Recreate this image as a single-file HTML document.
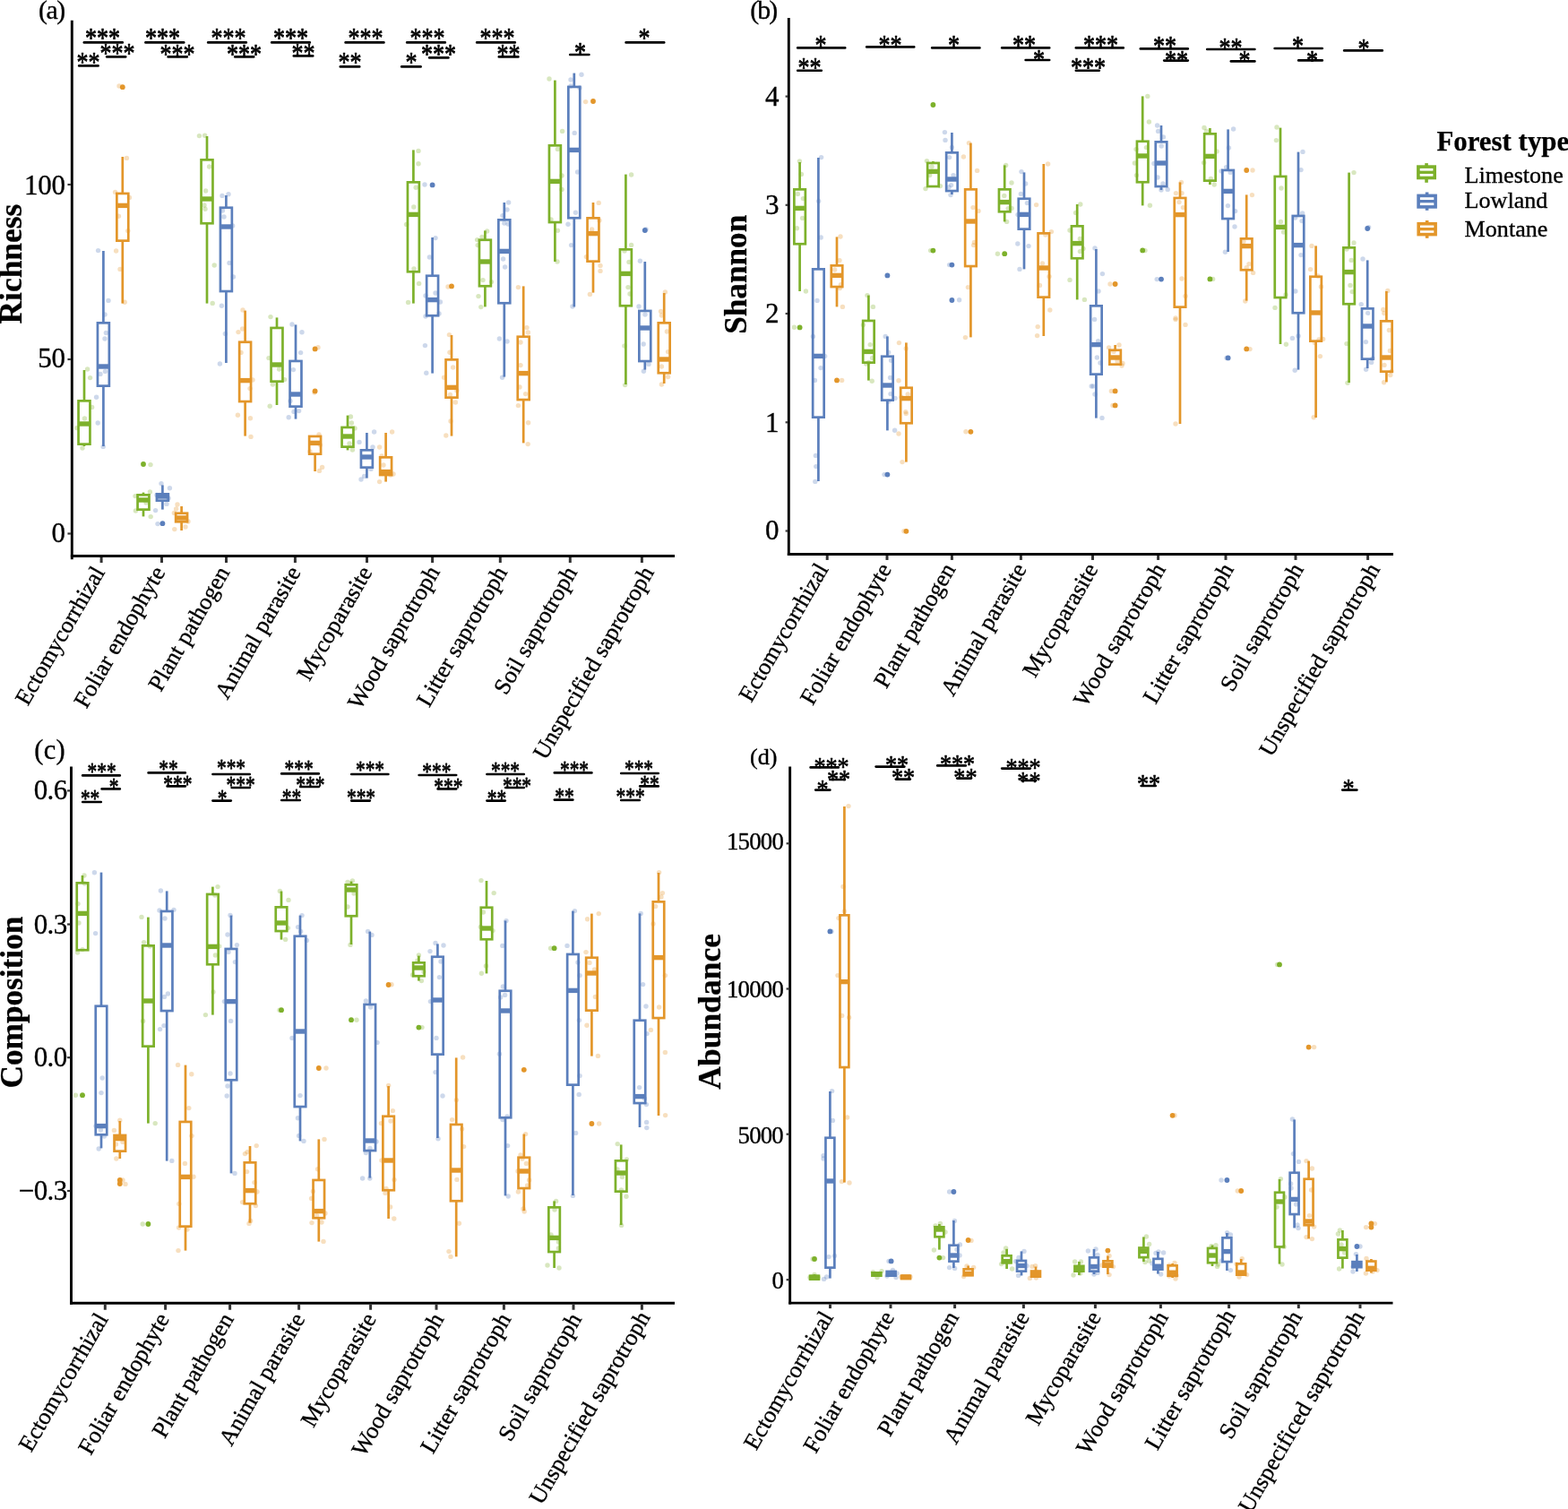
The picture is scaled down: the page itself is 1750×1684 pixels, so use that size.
<!DOCTYPE html>
<html lang="en">
<head>
<meta charset="utf-8">
<title>Fungal guild diversity by forest type</title>
<style>
html,body{margin:0;padding:0;background:#ffffff;}
body{width:1750px;height:1684px;overflow:hidden;font-family:"Liberation Serif",serif;}
svg{display:block;position:absolute;left:0;top:0;}
svg text{font-family:"Liberation Serif",serif;}
</style>
</head>
<body>
<svg xmlns="http://www.w3.org/2000/svg" width="1750" height="1684" viewBox="0 0 1750 1684" font-family="Liberation Serif, 'Liberation Serif', serif">
<rect x="0" y="0" width="1750" height="1684" fill="#ffffff"/>
<g fill="none" stroke-width="2.7">
<line x1="94" y1="413" x2="94" y2="447.35" stroke="#7DB12B"/>
<line x1="94" y1="495.65" x2="94" y2="498" stroke="#7DB12B"/>
<rect x="87.55" y="447.35" width="12.9" height="48.3" stroke="#7DB12B" fill="#ffffff"/>
<line x1="87.55" y1="473" x2="100.45" y2="473" stroke="#7DB12B" stroke-width="5.4"/>
<line x1="115.4" y1="280" x2="115.4" y2="360.35" stroke="#5B7FBC"/>
<line x1="115.4" y1="430.65" x2="115.4" y2="498" stroke="#5B7FBC"/>
<rect x="108.95" y="360.35" width="12.9" height="70.3" stroke="#5B7FBC" fill="#ffffff"/>
<line x1="108.95" y1="409" x2="121.85" y2="409" stroke="#5B7FBC" stroke-width="5.4"/>
<line x1="136.8" y1="175" x2="136.8" y2="215.95" stroke="#E3962A"/>
<line x1="136.8" y1="268.65" x2="136.8" y2="338.6" stroke="#E3962A"/>
<rect x="130.35" y="215.95" width="12.9" height="52.7" stroke="#E3962A" fill="#ffffff"/>
<line x1="130.35" y1="229.4" x2="143.25" y2="229.4" stroke="#E3962A" stroke-width="5.4"/>
<circle cx="136.8" cy="97.2" r="2.9" fill="#E3962A" stroke="none"/>
<line x1="160" y1="549.6" x2="160" y2="552.35" stroke="#7DB12B"/>
<line x1="160" y1="568.65" x2="160" y2="576.4" stroke="#7DB12B"/>
<rect x="153.55" y="552.35" width="12.9" height="16.3" stroke="#7DB12B" fill="#ffffff"/>
<line x1="153.55" y1="558" x2="166.45" y2="558" stroke="#7DB12B" stroke-width="5.4"/>
<circle cx="160" cy="518" r="2.9" fill="#7DB12B" stroke="none"/>
<line x1="181.4" y1="541.4" x2="181.4" y2="551.35" stroke="#5B7FBC"/>
<line x1="181.4" y1="558.65" x2="181.4" y2="568.6" stroke="#5B7FBC"/>
<rect x="174.95" y="551.35" width="12.9" height="7.3" stroke="#5B7FBC" fill="#ffffff"/>
<line x1="174.95" y1="554" x2="187.85" y2="554" stroke="#5B7FBC" stroke-width="5.4"/>
<circle cx="181.4" cy="584.2" r="2.9" fill="#5B7FBC" stroke="none"/>
<line x1="202.6" y1="565" x2="202.6" y2="572.75" stroke="#E3962A"/>
<line x1="202.6" y1="582.25" x2="202.6" y2="592" stroke="#E3962A"/>
<rect x="196.15" y="572.75" width="12.9" height="9.5" stroke="#E3962A" fill="#ffffff"/>
<line x1="196.15" y1="578" x2="209.05" y2="578" stroke="#E3962A" stroke-width="5.4"/>
<line x1="231" y1="152" x2="231" y2="178.35" stroke="#7DB12B"/>
<line x1="231" y1="249.25" x2="231" y2="338.6" stroke="#7DB12B"/>
<rect x="224.55" y="178.35" width="12.9" height="70.9" stroke="#7DB12B" fill="#ffffff"/>
<line x1="224.55" y1="222" x2="237.45" y2="222" stroke="#7DB12B" stroke-width="5.4"/>
<line x1="252.4" y1="218" x2="252.4" y2="231.75" stroke="#5B7FBC"/>
<line x1="252.4" y1="325.05" x2="252.4" y2="405" stroke="#5B7FBC"/>
<rect x="245.95" y="231.75" width="12.9" height="93.3" stroke="#5B7FBC" fill="#ffffff"/>
<line x1="245.95" y1="253" x2="258.85" y2="253" stroke="#5B7FBC" stroke-width="5.4"/>
<line x1="273.6" y1="346.6" x2="273.6" y2="381.75" stroke="#E3962A"/>
<line x1="273.6" y1="448.05" x2="273.6" y2="486.6" stroke="#E3962A"/>
<rect x="267.15" y="381.75" width="12.9" height="66.3" stroke="#E3962A" fill="#ffffff"/>
<line x1="267.15" y1="424.6" x2="280.05" y2="424.6" stroke="#E3962A" stroke-width="5.4"/>
<line x1="309" y1="354.4" x2="309" y2="365.95" stroke="#7DB12B"/>
<line x1="309" y1="425.65" x2="309" y2="452" stroke="#7DB12B"/>
<rect x="302.55" y="365.95" width="12.9" height="59.7" stroke="#7DB12B" fill="#ffffff"/>
<line x1="302.55" y1="407" x2="315.45" y2="407" stroke="#7DB12B" stroke-width="5.4"/>
<line x1="330" y1="362.4" x2="330" y2="402.95" stroke="#5B7FBC"/>
<line x1="330" y1="453.65" x2="330" y2="467.6" stroke="#5B7FBC"/>
<rect x="323.55" y="402.95" width="12.9" height="50.7" stroke="#5B7FBC" fill="#ffffff"/>
<line x1="323.55" y1="440" x2="336.45" y2="440" stroke="#5B7FBC" stroke-width="5.4"/>
<line x1="351.6" y1="506.65" x2="351.6" y2="526" stroke="#E3962A"/>
<rect x="345.15" y="486.95" width="12.9" height="19.7" stroke="#E3962A" fill="#ffffff"/>
<line x1="345.15" y1="494.4" x2="358.05" y2="494.4" stroke="#E3962A" stroke-width="5.4"/>
<circle cx="351.6" cy="389.4" r="2.9" fill="#E3962A" stroke="none"/>
<circle cx="351.6" cy="436.4" r="2.9" fill="#E3962A" stroke="none"/>
<line x1="388" y1="463.6" x2="388" y2="476.95" stroke="#7DB12B"/>
<line x1="388" y1="498.65" x2="388" y2="502.4" stroke="#7DB12B"/>
<rect x="381.55" y="476.95" width="12.9" height="21.7" stroke="#7DB12B" fill="#ffffff"/>
<line x1="381.55" y1="487" x2="394.45" y2="487" stroke="#7DB12B" stroke-width="5.4"/>
<line x1="409.4" y1="483" x2="409.4" y2="502.35" stroke="#5B7FBC"/>
<line x1="409.4" y1="521.65" x2="409.4" y2="533.6" stroke="#5B7FBC"/>
<rect x="402.95" y="502.35" width="12.9" height="19.3" stroke="#5B7FBC" fill="#ffffff"/>
<line x1="402.95" y1="510" x2="415.85" y2="510" stroke="#5B7FBC" stroke-width="5.4"/>
<line x1="430.6" y1="483" x2="430.6" y2="510.35" stroke="#E3962A"/>
<line x1="430.6" y1="530.05" x2="430.6" y2="537.6" stroke="#E3962A"/>
<rect x="424.15" y="510.35" width="12.9" height="19.7" stroke="#E3962A" fill="#ffffff"/>
<line x1="424.15" y1="526.6" x2="437.05" y2="526.6" stroke="#E3962A" stroke-width="5.4"/>
<line x1="461.4" y1="167.4" x2="461.4" y2="203.35" stroke="#7DB12B"/>
<line x1="461.4" y1="303.25" x2="461.4" y2="338.6" stroke="#7DB12B"/>
<rect x="454.95" y="203.35" width="12.9" height="99.9" stroke="#7DB12B" fill="#ffffff"/>
<line x1="454.95" y1="239.4" x2="467.85" y2="239.4" stroke="#7DB12B" stroke-width="5.4"/>
<line x1="482.6" y1="265" x2="482.6" y2="307.75" stroke="#5B7FBC"/>
<line x1="482.6" y1="352.25" x2="482.6" y2="416.6" stroke="#5B7FBC"/>
<rect x="476.15" y="307.75" width="12.9" height="44.5" stroke="#5B7FBC" fill="#ffffff"/>
<line x1="476.15" y1="334.6" x2="489.05" y2="334.6" stroke="#5B7FBC" stroke-width="5.4"/>
<circle cx="482.6" cy="206.4" r="2.9" fill="#5B7FBC" stroke="none"/>
<line x1="504" y1="374" x2="504" y2="401.35" stroke="#E3962A"/>
<line x1="504" y1="443.65" x2="504" y2="486.6" stroke="#E3962A"/>
<rect x="497.55" y="401.35" width="12.9" height="42.3" stroke="#E3962A" fill="#ffffff"/>
<line x1="497.55" y1="432.4" x2="510.45" y2="432.4" stroke="#E3962A" stroke-width="5.4"/>
<circle cx="504" cy="319.4" r="2.9" fill="#E3962A" stroke="none"/>
<line x1="541.4" y1="257.4" x2="541.4" y2="267.75" stroke="#7DB12B"/>
<line x1="541.4" y1="319.25" x2="541.4" y2="342.4" stroke="#7DB12B"/>
<rect x="534.95" y="267.75" width="12.9" height="51.5" stroke="#7DB12B" fill="#ffffff"/>
<line x1="534.95" y1="292" x2="547.85" y2="292" stroke="#7DB12B" stroke-width="5.4"/>
<line x1="562.8" y1="226" x2="562.8" y2="245.35" stroke="#5B7FBC"/>
<line x1="562.8" y1="338.25" x2="562.8" y2="420.6" stroke="#5B7FBC"/>
<rect x="556.35" y="245.35" width="12.9" height="92.9" stroke="#5B7FBC" fill="#ffffff"/>
<line x1="556.35" y1="280.4" x2="569.25" y2="280.4" stroke="#5B7FBC" stroke-width="5.4"/>
<line x1="584.2" y1="319.4" x2="584.2" y2="375.75" stroke="#E3962A"/>
<line x1="584.2" y1="446.05" x2="584.2" y2="494.4" stroke="#E3962A"/>
<rect x="577.75" y="375.75" width="12.9" height="70.3" stroke="#E3962A" fill="#ffffff"/>
<line x1="577.75" y1="416.6" x2="590.65" y2="416.6" stroke="#E3962A" stroke-width="5.4"/>
<line x1="619.4" y1="89.6" x2="619.4" y2="162.35" stroke="#7DB12B"/>
<line x1="619.4" y1="248.05" x2="619.4" y2="292" stroke="#7DB12B"/>
<rect x="612.95" y="162.35" width="12.9" height="85.7" stroke="#7DB12B" fill="#ffffff"/>
<line x1="612.95" y1="202.4" x2="625.85" y2="202.4" stroke="#7DB12B" stroke-width="5.4"/>
<line x1="640.8" y1="81.6" x2="640.8" y2="96.95" stroke="#5B7FBC"/>
<line x1="640.8" y1="243.25" x2="640.8" y2="342.4" stroke="#5B7FBC"/>
<rect x="634.35" y="96.95" width="12.9" height="146.3" stroke="#5B7FBC" fill="#ffffff"/>
<line x1="634.35" y1="167.4" x2="647.25" y2="167.4" stroke="#5B7FBC" stroke-width="5.4"/>
<line x1="662" y1="226" x2="662" y2="243.35" stroke="#E3962A"/>
<line x1="662" y1="291.65" x2="662" y2="326.6" stroke="#E3962A"/>
<rect x="655.55" y="243.35" width="12.9" height="48.3" stroke="#E3962A" fill="#ffffff"/>
<line x1="655.55" y1="260.6" x2="668.45" y2="260.6" stroke="#E3962A" stroke-width="5.4"/>
<circle cx="662" cy="113" r="2.9" fill="#E3962A" stroke="none"/>
<line x1="698.4" y1="194.6" x2="698.4" y2="278.35" stroke="#7DB12B"/>
<line x1="698.4" y1="341.25" x2="698.4" y2="429" stroke="#7DB12B"/>
<rect x="691.95" y="278.35" width="12.9" height="62.9" stroke="#7DB12B" fill="#ffffff"/>
<line x1="691.95" y1="305.4" x2="704.85" y2="305.4" stroke="#7DB12B" stroke-width="5.4"/>
<line x1="719.8" y1="292" x2="719.8" y2="346.95" stroke="#5B7FBC"/>
<line x1="719.8" y1="403.05" x2="719.8" y2="412.6" stroke="#5B7FBC"/>
<rect x="713.35" y="346.95" width="12.9" height="56.1" stroke="#5B7FBC" fill="#ffffff"/>
<line x1="713.35" y1="366" x2="726.25" y2="366" stroke="#5B7FBC" stroke-width="5.4"/>
<circle cx="719.8" cy="257" r="2.9" fill="#5B7FBC" stroke="none"/>
<line x1="741.2" y1="327" x2="741.2" y2="360.35" stroke="#E3962A"/>
<line x1="741.2" y1="416.25" x2="741.2" y2="428" stroke="#E3962A"/>
<rect x="734.75" y="360.35" width="12.9" height="55.9" stroke="#E3962A" fill="#ffffff"/>
<line x1="734.75" y1="401" x2="747.65" y2="401" stroke="#E3962A" stroke-width="5.4"/>
</g>
<g fill="none" stroke-width="2.7">
<line x1="892.6" y1="181" x2="892.6" y2="211.35" stroke="#7DB12B"/>
<line x1="892.6" y1="272.25" x2="892.6" y2="325" stroke="#7DB12B"/>
<rect x="886.35" y="211.35" width="12.5" height="60.9" stroke="#7DB12B" fill="#ffffff"/>
<line x1="886.35" y1="232.4" x2="898.85" y2="232.4" stroke="#7DB12B" stroke-width="5.4"/>
<circle cx="892.6" cy="365.4" r="2.9" fill="#7DB12B" stroke="none"/>
<line x1="913.4" y1="176" x2="913.4" y2="300.35" stroke="#5B7FBC"/>
<line x1="913.4" y1="465.65" x2="913.4" y2="537" stroke="#5B7FBC"/>
<rect x="907.15" y="300.35" width="12.5" height="165.3" stroke="#5B7FBC" fill="#ffffff"/>
<line x1="907.15" y1="397.4" x2="919.65" y2="397.4" stroke="#5B7FBC" stroke-width="5.4"/>
<line x1="934" y1="264.4" x2="934" y2="296.35" stroke="#E3962A"/>
<line x1="934" y1="320.05" x2="934" y2="342.4" stroke="#E3962A"/>
<rect x="927.75" y="296.35" width="12.5" height="23.7" stroke="#E3962A" fill="#ffffff"/>
<line x1="927.75" y1="307.4" x2="940.25" y2="307.4" stroke="#E3962A" stroke-width="5.4"/>
<circle cx="934" cy="424.4" r="2.9" fill="#E3962A" stroke="none"/>
<line x1="969.4" y1="329.6" x2="969.4" y2="357.95" stroke="#7DB12B"/>
<line x1="969.4" y1="404.65" x2="969.4" y2="424.6" stroke="#7DB12B"/>
<rect x="963.15" y="357.95" width="12.5" height="46.7" stroke="#7DB12B" fill="#ffffff"/>
<line x1="963.15" y1="392.4" x2="975.65" y2="392.4" stroke="#7DB12B" stroke-width="5.4"/>
<line x1="990.4" y1="375.4" x2="990.4" y2="397.75" stroke="#5B7FBC"/>
<line x1="990.4" y1="446.65" x2="990.4" y2="480.4" stroke="#5B7FBC"/>
<rect x="984.15" y="397.75" width="12.5" height="48.9" stroke="#5B7FBC" fill="#ffffff"/>
<line x1="984.15" y1="430" x2="996.65" y2="430" stroke="#5B7FBC" stroke-width="5.4"/>
<circle cx="990.4" cy="307.4" r="2.9" fill="#5B7FBC" stroke="none"/>
<circle cx="990.4" cy="529.6" r="2.9" fill="#5B7FBC" stroke="none"/>
<line x1="1011.4" y1="382.4" x2="1011.4" y2="432.75" stroke="#E3962A"/>
<line x1="1011.4" y1="472.25" x2="1011.4" y2="515.6" stroke="#E3962A"/>
<rect x="1005.15" y="432.75" width="12.5" height="39.5" stroke="#E3962A" fill="#ffffff"/>
<line x1="1005.15" y1="444.6" x2="1017.65" y2="444.6" stroke="#E3962A" stroke-width="5.4"/>
<circle cx="1011.4" cy="592.8" r="2.9" fill="#E3962A" stroke="none"/>
<line x1="1041.4" y1="180" x2="1041.4" y2="181.95" stroke="#7DB12B"/>
<rect x="1035.15" y="181.95" width="12.5" height="26.1" stroke="#7DB12B" fill="#ffffff"/>
<line x1="1035.15" y1="191.4" x2="1047.65" y2="191.4" stroke="#7DB12B" stroke-width="5.4"/>
<circle cx="1041.4" cy="117" r="2.9" fill="#7DB12B" stroke="none"/>
<circle cx="1041.4" cy="279.6" r="2.9" fill="#7DB12B" stroke="none"/>
<line x1="1062.4" y1="148" x2="1062.4" y2="170.35" stroke="#5B7FBC"/>
<line x1="1062.4" y1="213.05" x2="1062.4" y2="217" stroke="#5B7FBC"/>
<rect x="1056.15" y="170.35" width="12.5" height="42.7" stroke="#5B7FBC" fill="#ffffff"/>
<line x1="1056.15" y1="200" x2="1068.65" y2="200" stroke="#5B7FBC" stroke-width="5.4"/>
<circle cx="1062.4" cy="295.6" r="2.9" fill="#5B7FBC" stroke="none"/>
<circle cx="1062.4" cy="335" r="2.9" fill="#5B7FBC" stroke="none"/>
<line x1="1083.4" y1="159.6" x2="1083.4" y2="211.35" stroke="#E3962A"/>
<line x1="1083.4" y1="297.05" x2="1083.4" y2="376.4" stroke="#E3962A"/>
<rect x="1077.15" y="211.35" width="12.5" height="85.7" stroke="#E3962A" fill="#ffffff"/>
<line x1="1077.15" y1="247" x2="1089.65" y2="247" stroke="#E3962A" stroke-width="5.4"/>
<circle cx="1083.4" cy="481.8" r="2.9" fill="#E3962A" stroke="none"/>
<line x1="1121.2" y1="184.4" x2="1121.2" y2="211.35" stroke="#7DB12B"/>
<line x1="1121.2" y1="236.25" x2="1121.2" y2="247.4" stroke="#7DB12B"/>
<rect x="1114.95" y="211.35" width="12.5" height="24.9" stroke="#7DB12B" fill="#ffffff"/>
<line x1="1114.95" y1="225.6" x2="1127.45" y2="225.6" stroke="#7DB12B" stroke-width="5.4"/>
<circle cx="1121.2" cy="283.2" r="2.9" fill="#7DB12B" stroke="none"/>
<line x1="1143" y1="192.4" x2="1143" y2="221.75" stroke="#5B7FBC"/>
<line x1="1143" y1="255.65" x2="1143" y2="300.4" stroke="#5B7FBC"/>
<rect x="1136.75" y="221.75" width="12.5" height="33.9" stroke="#5B7FBC" fill="#ffffff"/>
<line x1="1136.75" y1="239.4" x2="1149.25" y2="239.4" stroke="#5B7FBC" stroke-width="5.4"/>
<line x1="1164.8" y1="183" x2="1164.8" y2="260.35" stroke="#E3962A"/>
<line x1="1164.8" y1="331.65" x2="1164.8" y2="375" stroke="#E3962A"/>
<rect x="1158.55" y="260.35" width="12.5" height="71.3" stroke="#E3962A" fill="#ffffff"/>
<line x1="1158.55" y1="299" x2="1171.05" y2="299" stroke="#E3962A" stroke-width="5.4"/>
<line x1="1202.2" y1="228" x2="1202.2" y2="252.35" stroke="#7DB12B"/>
<line x1="1202.2" y1="288.25" x2="1202.2" y2="334.4" stroke="#7DB12B"/>
<rect x="1195.95" y="252.35" width="12.5" height="35.9" stroke="#7DB12B" fill="#ffffff"/>
<line x1="1195.95" y1="271.6" x2="1208.45" y2="271.6" stroke="#7DB12B" stroke-width="5.4"/>
<line x1="1223.4" y1="278" x2="1223.4" y2="341.35" stroke="#5B7FBC"/>
<line x1="1223.4" y1="417.65" x2="1223.4" y2="466.6" stroke="#5B7FBC"/>
<rect x="1217.15" y="341.35" width="12.5" height="76.3" stroke="#5B7FBC" fill="#ffffff"/>
<line x1="1217.15" y1="384.6" x2="1229.65" y2="384.6" stroke="#5B7FBC" stroke-width="5.4"/>
<line x1="1244.6" y1="385" x2="1244.6" y2="390.75" stroke="#E3962A"/>
<rect x="1238.35" y="390.75" width="12.5" height="15.9" stroke="#E3962A" fill="#ffffff"/>
<line x1="1238.35" y1="399" x2="1250.85" y2="399" stroke="#E3962A" stroke-width="5.4"/>
<circle cx="1244.6" cy="317" r="2.9" fill="#E3962A" stroke="none"/>
<circle cx="1244.6" cy="436.4" r="2.9" fill="#E3962A" stroke="none"/>
<circle cx="1244.6" cy="452.4" r="2.9" fill="#E3962A" stroke="none"/>
<line x1="1275.2" y1="107.4" x2="1275.2" y2="157.75" stroke="#7DB12B"/>
<line x1="1275.2" y1="203.25" x2="1275.2" y2="229.4" stroke="#7DB12B"/>
<rect x="1268.95" y="157.75" width="12.5" height="45.5" stroke="#7DB12B" fill="#ffffff"/>
<line x1="1268.95" y1="174" x2="1281.45" y2="174" stroke="#7DB12B" stroke-width="5.4"/>
<circle cx="1275.2" cy="279.4" r="2.9" fill="#7DB12B" stroke="none"/>
<line x1="1296" y1="140" x2="1296" y2="158.35" stroke="#5B7FBC"/>
<line x1="1296" y1="208.05" x2="1296" y2="212" stroke="#5B7FBC"/>
<rect x="1289.75" y="158.35" width="12.5" height="49.7" stroke="#5B7FBC" fill="#ffffff"/>
<line x1="1289.75" y1="182" x2="1302.25" y2="182" stroke="#5B7FBC" stroke-width="5.4"/>
<circle cx="1296" cy="311.6" r="2.9" fill="#5B7FBC" stroke="none"/>
<line x1="1317" y1="203.4" x2="1317" y2="220.95" stroke="#E3962A"/>
<line x1="1317" y1="342.65" x2="1317" y2="473" stroke="#E3962A"/>
<rect x="1310.75" y="220.95" width="12.5" height="121.7" stroke="#E3962A" fill="#ffffff"/>
<line x1="1310.75" y1="239.6" x2="1323.25" y2="239.6" stroke="#E3962A" stroke-width="5.4"/>
<line x1="1350.4" y1="143" x2="1350.4" y2="149.35" stroke="#7DB12B"/>
<line x1="1350.4" y1="201.65" x2="1350.4" y2="206" stroke="#7DB12B"/>
<rect x="1344.15" y="149.35" width="12.5" height="52.3" stroke="#7DB12B" fill="#ffffff"/>
<line x1="1344.15" y1="174.4" x2="1356.65" y2="174.4" stroke="#7DB12B" stroke-width="5.4"/>
<circle cx="1350.4" cy="311.4" r="2.9" fill="#7DB12B" stroke="none"/>
<line x1="1370.6" y1="144.4" x2="1370.6" y2="189.95" stroke="#5B7FBC"/>
<line x1="1370.6" y1="244.05" x2="1370.6" y2="281" stroke="#5B7FBC"/>
<rect x="1364.35" y="189.95" width="12.5" height="54.1" stroke="#5B7FBC" fill="#ffffff"/>
<line x1="1364.35" y1="213.4" x2="1376.85" y2="213.4" stroke="#5B7FBC" stroke-width="5.4"/>
<circle cx="1370.6" cy="399.4" r="2.9" fill="#5B7FBC" stroke="none"/>
<line x1="1391.2" y1="217.4" x2="1391.2" y2="266.35" stroke="#E3962A"/>
<line x1="1391.2" y1="301.25" x2="1391.2" y2="335.6" stroke="#E3962A"/>
<rect x="1384.95" y="266.35" width="12.5" height="34.9" stroke="#E3962A" fill="#ffffff"/>
<line x1="1384.95" y1="274.6" x2="1397.45" y2="274.6" stroke="#E3962A" stroke-width="5.4"/>
<circle cx="1391.2" cy="190" r="2.9" fill="#E3962A" stroke="none"/>
<circle cx="1391.2" cy="389.4" r="2.9" fill="#E3962A" stroke="none"/>
<line x1="1429" y1="142.6" x2="1429" y2="196.95" stroke="#7DB12B"/>
<line x1="1429" y1="332.05" x2="1429" y2="384" stroke="#7DB12B"/>
<rect x="1422.75" y="196.95" width="12.5" height="135.1" stroke="#7DB12B" fill="#ffffff"/>
<line x1="1422.75" y1="253.4" x2="1435.25" y2="253.4" stroke="#7DB12B" stroke-width="5.4"/>
<line x1="1449" y1="169.6" x2="1449" y2="240.95" stroke="#5B7FBC"/>
<line x1="1449" y1="349.25" x2="1449" y2="412.6" stroke="#5B7FBC"/>
<rect x="1442.75" y="240.95" width="12.5" height="108.3" stroke="#5B7FBC" fill="#ffffff"/>
<line x1="1442.75" y1="273.6" x2="1455.25" y2="273.6" stroke="#5B7FBC" stroke-width="5.4"/>
<line x1="1468.6" y1="274.4" x2="1468.6" y2="308.75" stroke="#E3962A"/>
<line x1="1468.6" y1="380.65" x2="1468.6" y2="466" stroke="#E3962A"/>
<rect x="1462.35" y="308.75" width="12.5" height="71.9" stroke="#E3962A" fill="#ffffff"/>
<line x1="1462.35" y1="349" x2="1474.85" y2="349" stroke="#E3962A" stroke-width="5.4"/>
<line x1="1505.6" y1="192.6" x2="1505.6" y2="276.35" stroke="#7DB12B"/>
<line x1="1505.6" y1="339.25" x2="1505.6" y2="427" stroke="#7DB12B"/>
<rect x="1499.35" y="276.35" width="12.5" height="62.9" stroke="#7DB12B" fill="#ffffff"/>
<line x1="1499.35" y1="303.6" x2="1511.85" y2="303.6" stroke="#7DB12B" stroke-width="5.4"/>
<line x1="1526.2" y1="290.4" x2="1526.2" y2="344.35" stroke="#5B7FBC"/>
<line x1="1526.2" y1="400.65" x2="1526.2" y2="411" stroke="#5B7FBC"/>
<rect x="1519.95" y="344.35" width="12.5" height="56.3" stroke="#5B7FBC" fill="#ffffff"/>
<line x1="1519.95" y1="364" x2="1532.45" y2="364" stroke="#5B7FBC" stroke-width="5.4"/>
<circle cx="1526.2" cy="255" r="2.9" fill="#5B7FBC" stroke="none"/>
<line x1="1547.4" y1="325" x2="1547.4" y2="358.35" stroke="#E3962A"/>
<line x1="1547.4" y1="414.65" x2="1547.4" y2="426.4" stroke="#E3962A"/>
<rect x="1541.15" y="358.35" width="12.5" height="56.3" stroke="#E3962A" fill="#ffffff"/>
<line x1="1541.15" y1="399" x2="1553.65" y2="399" stroke="#E3962A" stroke-width="5.4"/>
</g>
<g fill="none" stroke-width="2.7">
<line x1="92" y1="977" x2="92" y2="985.35" stroke="#7DB12B"/>
<rect x="85.75" y="985.35" width="12.5" height="74.9" stroke="#7DB12B" fill="#ffffff"/>
<line x1="85.75" y1="1019.4" x2="98.25" y2="1019.4" stroke="#7DB12B" stroke-width="5.4"/>
<circle cx="92" cy="1222.2" r="2.9" fill="#7DB12B" stroke="none"/>
<line x1="113" y1="973.6" x2="113" y2="1122.75" stroke="#5B7FBC"/>
<line x1="113" y1="1266.25" x2="113" y2="1281.4" stroke="#5B7FBC"/>
<rect x="106.75" y="1122.75" width="12.5" height="143.5" stroke="#5B7FBC" fill="#ffffff"/>
<line x1="106.75" y1="1256.6" x2="119.25" y2="1256.6" stroke="#5B7FBC" stroke-width="5.4"/>
<line x1="133.8" y1="1251" x2="133.8" y2="1266.95" stroke="#E3962A"/>
<line x1="133.8" y1="1284.65" x2="133.8" y2="1293" stroke="#E3962A"/>
<rect x="127.55" y="1266.95" width="12.5" height="17.7" stroke="#E3962A" fill="#ffffff"/>
<line x1="127.55" y1="1270.6" x2="140.05" y2="1270.6" stroke="#E3962A" stroke-width="5.4"/>
<circle cx="133.8" cy="1317" r="2.9" fill="#E3962A" stroke="none"/>
<circle cx="133.8" cy="1321" r="2.9" fill="#E3962A" stroke="none"/>
<line x1="165.4" y1="1023.6" x2="165.4" y2="1055.35" stroke="#7DB12B"/>
<line x1="165.4" y1="1167.65" x2="165.4" y2="1253.6" stroke="#7DB12B"/>
<rect x="159.15" y="1055.35" width="12.5" height="112.3" stroke="#7DB12B" fill="#ffffff"/>
<line x1="159.15" y1="1117" x2="171.65" y2="1117" stroke="#7DB12B" stroke-width="5.4"/>
<circle cx="165.4" cy="1366" r="2.9" fill="#7DB12B" stroke="none"/>
<line x1="186.2" y1="994.4" x2="186.2" y2="1016.95" stroke="#5B7FBC"/>
<line x1="186.2" y1="1128.05" x2="186.2" y2="1295.6" stroke="#5B7FBC"/>
<rect x="179.95" y="1016.95" width="12.5" height="111.1" stroke="#5B7FBC" fill="#ffffff"/>
<line x1="179.95" y1="1055" x2="192.45" y2="1055" stroke="#5B7FBC" stroke-width="5.4"/>
<line x1="207" y1="1188.6" x2="207" y2="1251.95" stroke="#E3962A"/>
<line x1="207" y1="1368.65" x2="207" y2="1395.6" stroke="#E3962A"/>
<rect x="200.75" y="1251.95" width="12.5" height="116.7" stroke="#E3962A" fill="#ffffff"/>
<line x1="200.75" y1="1313.4" x2="213.25" y2="1313.4" stroke="#E3962A" stroke-width="5.4"/>
<line x1="237.4" y1="989.6" x2="237.4" y2="997.95" stroke="#7DB12B"/>
<line x1="237.4" y1="1076.25" x2="237.4" y2="1132.6" stroke="#7DB12B"/>
<rect x="231.15" y="997.95" width="12.5" height="78.3" stroke="#7DB12B" fill="#ffffff"/>
<line x1="231.15" y1="1056.4" x2="243.65" y2="1056.4" stroke="#7DB12B" stroke-width="5.4"/>
<line x1="258" y1="1021.6" x2="258" y2="1058.95" stroke="#5B7FBC"/>
<line x1="258" y1="1205.25" x2="258" y2="1309.4" stroke="#5B7FBC"/>
<rect x="251.75" y="1058.95" width="12.5" height="146.3" stroke="#5B7FBC" fill="#ffffff"/>
<line x1="251.75" y1="1117.6" x2="264.25" y2="1117.6" stroke="#5B7FBC" stroke-width="5.4"/>
<line x1="279" y1="1279" x2="279" y2="1297.35" stroke="#E3962A"/>
<line x1="279" y1="1343.25" x2="279" y2="1364.6" stroke="#E3962A"/>
<rect x="272.75" y="1297.35" width="12.5" height="45.9" stroke="#E3962A" fill="#ffffff"/>
<line x1="272.75" y1="1328.6" x2="285.25" y2="1328.6" stroke="#E3962A" stroke-width="5.4"/>
<line x1="314" y1="994.6" x2="314" y2="1012.35" stroke="#7DB12B"/>
<line x1="314" y1="1039.05" x2="314" y2="1048.6" stroke="#7DB12B"/>
<rect x="307.75" y="1012.35" width="12.5" height="26.7" stroke="#7DB12B" fill="#ffffff"/>
<line x1="307.75" y1="1030" x2="320.25" y2="1030" stroke="#7DB12B" stroke-width="5.4"/>
<circle cx="314" cy="1127.2" r="2.9" fill="#7DB12B" stroke="none"/>
<line x1="335" y1="1021.6" x2="335" y2="1044.75" stroke="#5B7FBC"/>
<line x1="335" y1="1235.05" x2="335" y2="1273.4" stroke="#5B7FBC"/>
<rect x="328.75" y="1044.75" width="12.5" height="190.3" stroke="#5B7FBC" fill="#ffffff"/>
<line x1="328.75" y1="1151" x2="341.25" y2="1151" stroke="#5B7FBC" stroke-width="5.4"/>
<line x1="355.8" y1="1271.4" x2="355.8" y2="1316.95" stroke="#E3962A"/>
<line x1="355.8" y1="1359.25" x2="355.8" y2="1385.6" stroke="#E3962A"/>
<rect x="349.55" y="1316.95" width="12.5" height="42.3" stroke="#E3962A" fill="#ffffff"/>
<line x1="349.55" y1="1351.6" x2="362.05" y2="1351.6" stroke="#E3962A" stroke-width="5.4"/>
<circle cx="355.8" cy="1192" r="2.9" fill="#E3962A" stroke="none"/>
<line x1="392" y1="983.6" x2="392" y2="987.35" stroke="#7DB12B"/>
<line x1="392" y1="1022.25" x2="392" y2="1054" stroke="#7DB12B"/>
<rect x="385.75" y="987.35" width="12.5" height="34.9" stroke="#7DB12B" fill="#ffffff"/>
<line x1="385.75" y1="993" x2="398.25" y2="993" stroke="#7DB12B" stroke-width="5.4"/>
<circle cx="392" cy="1138.2" r="2.9" fill="#7DB12B" stroke="none"/>
<line x1="412.8" y1="1039.6" x2="412.8" y2="1120.95" stroke="#5B7FBC"/>
<line x1="412.8" y1="1284.05" x2="412.8" y2="1314.6" stroke="#5B7FBC"/>
<rect x="406.55" y="1120.95" width="12.5" height="163.1" stroke="#5B7FBC" fill="#ffffff"/>
<line x1="406.55" y1="1273" x2="419.05" y2="1273" stroke="#5B7FBC" stroke-width="5.4"/>
<line x1="433.6" y1="1212" x2="433.6" y2="1245.75" stroke="#E3962A"/>
<line x1="433.6" y1="1328.25" x2="433.6" y2="1360" stroke="#E3962A"/>
<rect x="427.35" y="1245.75" width="12.5" height="82.5" stroke="#E3962A" fill="#ffffff"/>
<line x1="427.35" y1="1295" x2="439.85" y2="1295" stroke="#E3962A" stroke-width="5.4"/>
<circle cx="433.6" cy="1099" r="2.9" fill="#E3962A" stroke="none"/>
<line x1="467.4" y1="1066.6" x2="467.4" y2="1074.35" stroke="#7DB12B"/>
<line x1="467.4" y1="1089.25" x2="467.4" y2="1094.6" stroke="#7DB12B"/>
<rect x="461.15" y="1074.35" width="12.5" height="14.9" stroke="#7DB12B" fill="#ffffff"/>
<line x1="461.15" y1="1080" x2="473.65" y2="1080" stroke="#7DB12B" stroke-width="5.4"/>
<circle cx="467.4" cy="1146.6" r="2.9" fill="#7DB12B" stroke="none"/>
<line x1="488.4" y1="1053.4" x2="488.4" y2="1067.75" stroke="#5B7FBC"/>
<line x1="488.4" y1="1176.65" x2="488.4" y2="1270" stroke="#5B7FBC"/>
<rect x="482.15" y="1067.75" width="12.5" height="108.9" stroke="#5B7FBC" fill="#ffffff"/>
<line x1="482.15" y1="1116" x2="494.65" y2="1116" stroke="#5B7FBC" stroke-width="5.4"/>
<line x1="509.2" y1="1180.4" x2="509.2" y2="1254.95" stroke="#E3962A"/>
<line x1="509.2" y1="1340.25" x2="509.2" y2="1402.4" stroke="#E3962A"/>
<rect x="502.95" y="1254.95" width="12.5" height="85.3" stroke="#E3962A" fill="#ffffff"/>
<line x1="502.95" y1="1306" x2="515.45" y2="1306" stroke="#E3962A" stroke-width="5.4"/>
<line x1="543" y1="983" x2="543" y2="1012.75" stroke="#7DB12B"/>
<line x1="543" y1="1048.25" x2="543" y2="1086.4" stroke="#7DB12B"/>
<rect x="536.75" y="1012.75" width="12.5" height="35.5" stroke="#7DB12B" fill="#ffffff"/>
<line x1="536.75" y1="1036" x2="549.25" y2="1036" stroke="#7DB12B" stroke-width="5.4"/>
<line x1="564" y1="1027.4" x2="564" y2="1105.75" stroke="#5B7FBC"/>
<line x1="564" y1="1247.25" x2="564" y2="1334.4" stroke="#5B7FBC"/>
<rect x="557.75" y="1105.75" width="12.5" height="141.5" stroke="#5B7FBC" fill="#ffffff"/>
<line x1="557.75" y1="1128" x2="570.25" y2="1128" stroke="#5B7FBC" stroke-width="5.4"/>
<line x1="584.8" y1="1265.6" x2="584.8" y2="1291.75" stroke="#E3962A"/>
<line x1="584.8" y1="1326.05" x2="584.8" y2="1351" stroke="#E3962A"/>
<rect x="578.55" y="1291.75" width="12.5" height="34.3" stroke="#E3962A" fill="#ffffff"/>
<line x1="578.55" y1="1307" x2="591.05" y2="1307" stroke="#E3962A" stroke-width="5.4"/>
<circle cx="584.8" cy="1193.8" r="2.9" fill="#E3962A" stroke="none"/>
<line x1="618.6" y1="1340.4" x2="618.6" y2="1347.35" stroke="#7DB12B"/>
<line x1="618.6" y1="1397.05" x2="618.6" y2="1415" stroke="#7DB12B"/>
<rect x="612.35" y="1347.35" width="12.5" height="49.7" stroke="#7DB12B" fill="#ffffff"/>
<line x1="612.35" y1="1381.4" x2="624.85" y2="1381.4" stroke="#7DB12B" stroke-width="5.4"/>
<circle cx="618.6" cy="1058.2" r="2.9" fill="#7DB12B" stroke="none"/>
<line x1="639.4" y1="1016.6" x2="639.4" y2="1064.95" stroke="#5B7FBC"/>
<line x1="639.4" y1="1210.65" x2="639.4" y2="1334" stroke="#5B7FBC"/>
<rect x="633.15" y="1064.95" width="12.5" height="145.7" stroke="#5B7FBC" fill="#ffffff"/>
<line x1="633.15" y1="1105.4" x2="645.65" y2="1105.4" stroke="#5B7FBC" stroke-width="5.4"/>
<line x1="660.4" y1="1019.6" x2="660.4" y2="1068.75" stroke="#E3962A"/>
<line x1="660.4" y1="1127.65" x2="660.4" y2="1178.6" stroke="#E3962A"/>
<rect x="654.15" y="1068.75" width="12.5" height="58.9" stroke="#E3962A" fill="#ffffff"/>
<line x1="654.15" y1="1086" x2="666.65" y2="1086" stroke="#E3962A" stroke-width="5.4"/>
<circle cx="660.4" cy="1254" r="2.9" fill="#E3962A" stroke="none"/>
<line x1="693.2" y1="1277.4" x2="693.2" y2="1295.35" stroke="#7DB12B"/>
<line x1="693.2" y1="1329.65" x2="693.2" y2="1367" stroke="#7DB12B"/>
<rect x="686.95" y="1295.35" width="12.5" height="34.3" stroke="#7DB12B" fill="#ffffff"/>
<line x1="686.95" y1="1309" x2="699.45" y2="1309" stroke="#7DB12B" stroke-width="5.4"/>
<line x1="714" y1="1019.4" x2="714" y2="1138.75" stroke="#5B7FBC"/>
<line x1="714" y1="1231.05" x2="714" y2="1258" stroke="#5B7FBC"/>
<rect x="707.75" y="1138.75" width="12.5" height="92.3" stroke="#5B7FBC" fill="#ffffff"/>
<line x1="707.75" y1="1223.6" x2="720.25" y2="1223.6" stroke="#5B7FBC" stroke-width="5.4"/>
<line x1="735" y1="974" x2="735" y2="1006.35" stroke="#E3962A"/>
<line x1="735" y1="1136.05" x2="735" y2="1245" stroke="#E3962A"/>
<rect x="728.75" y="1006.35" width="12.5" height="129.7" stroke="#E3962A" fill="#ffffff"/>
<line x1="728.75" y1="1068.6" x2="741.25" y2="1068.6" stroke="#E3962A" stroke-width="5.4"/>
</g>
<g fill="none" stroke-width="2.7">
<line x1="909" y1="1422" x2="909" y2="1423.75" stroke="#7DB12B"/>
<rect x="904.05" y="1423.75" width="9.9" height="3.9" stroke="#7DB12B" fill="#ffffff"/>
<line x1="904.05" y1="1425.5" x2="913.95" y2="1425.5" stroke="#7DB12B" stroke-width="5.4"/>
<circle cx="909" cy="1405" r="2.9" fill="#7DB12B" stroke="none"/>
<line x1="926.4" y1="1218" x2="926.4" y2="1269.75" stroke="#5B7FBC"/>
<line x1="926.4" y1="1414.65" x2="926.4" y2="1426.6" stroke="#5B7FBC"/>
<rect x="921.45" y="1269.75" width="9.9" height="144.9" stroke="#5B7FBC" fill="#ffffff"/>
<line x1="921.45" y1="1318" x2="931.35" y2="1318" stroke="#5B7FBC" stroke-width="5.4"/>
<circle cx="926.4" cy="1039.4" r="2.9" fill="#5B7FBC" stroke="none"/>
<line x1="942.4" y1="900" x2="942.4" y2="1021.35" stroke="#E3962A"/>
<line x1="942.4" y1="1191.05" x2="942.4" y2="1319.6" stroke="#E3962A"/>
<rect x="937.45" y="1021.35" width="9.9" height="169.7" stroke="#E3962A" fill="#ffffff"/>
<line x1="937.45" y1="1095.6" x2="947.35" y2="1095.6" stroke="#E3962A" stroke-width="5.4"/>
<rect x="973.45" y="1420.35" width="9.9" height="3.3" stroke="#7DB12B" fill="#ffffff"/>
<line x1="973.45" y1="1422" x2="983.35" y2="1422" stroke="#7DB12B" stroke-width="5.4"/>
<rect x="989.65" y="1418.95" width="9.9" height="4.7" stroke="#5B7FBC" fill="#ffffff"/>
<line x1="989.65" y1="1421" x2="999.55" y2="1421" stroke="#5B7FBC" stroke-width="5.4"/>
<circle cx="994.6" cy="1407.4" r="2.9" fill="#5B7FBC" stroke="none"/>
<rect x="1006.05" y="1423.75" width="9.9" height="3.3" stroke="#E3962A" fill="#ffffff"/>
<line x1="1006.05" y1="1425" x2="1015.95" y2="1425" stroke="#E3962A" stroke-width="5.4"/>
<line x1="1048.4" y1="1366" x2="1048.4" y2="1369.35" stroke="#7DB12B"/>
<line x1="1048.4" y1="1380.25" x2="1048.4" y2="1394.6" stroke="#7DB12B"/>
<rect x="1043.45" y="1369.35" width="9.9" height="10.9" stroke="#7DB12B" fill="#ffffff"/>
<line x1="1043.45" y1="1372" x2="1053.35" y2="1372" stroke="#7DB12B" stroke-width="5.4"/>
<circle cx="1048.4" cy="1403.6" r="2.9" fill="#7DB12B" stroke="none"/>
<line x1="1064.4" y1="1362" x2="1064.4" y2="1389.75" stroke="#5B7FBC"/>
<line x1="1064.4" y1="1407.65" x2="1064.4" y2="1415" stroke="#5B7FBC"/>
<rect x="1059.45" y="1389.75" width="9.9" height="17.9" stroke="#5B7FBC" fill="#ffffff"/>
<line x1="1059.45" y1="1401" x2="1069.35" y2="1401" stroke="#5B7FBC" stroke-width="5.4"/>
<circle cx="1064.4" cy="1330" r="2.9" fill="#5B7FBC" stroke="none"/>
<line x1="1080.6" y1="1412.5" x2="1080.6" y2="1416.35" stroke="#E3962A"/>
<rect x="1075.65" y="1416.35" width="9.9" height="6.9" stroke="#E3962A" fill="#ffffff"/>
<line x1="1075.65" y1="1421.4" x2="1085.55" y2="1421.4" stroke="#E3962A" stroke-width="5.4"/>
<circle cx="1080.6" cy="1384" r="2.9" fill="#E3962A" stroke="none"/>
<line x1="1123.6" y1="1393.8" x2="1123.6" y2="1401.35" stroke="#7DB12B"/>
<line x1="1123.6" y1="1409.25" x2="1123.6" y2="1416" stroke="#7DB12B"/>
<rect x="1118.65" y="1401.35" width="9.9" height="7.9" stroke="#7DB12B" fill="#ffffff"/>
<line x1="1118.65" y1="1407.6" x2="1128.55" y2="1407.6" stroke="#7DB12B" stroke-width="5.4"/>
<line x1="1140" y1="1396.4" x2="1140" y2="1406.95" stroke="#5B7FBC"/>
<line x1="1140" y1="1418.65" x2="1140" y2="1423.5" stroke="#5B7FBC"/>
<rect x="1135.05" y="1406.95" width="9.9" height="11.7" stroke="#5B7FBC" fill="#ffffff"/>
<line x1="1135.05" y1="1412.5" x2="1144.95" y2="1412.5" stroke="#5B7FBC" stroke-width="5.4"/>
<line x1="1156" y1="1413.5" x2="1156" y2="1418.55" stroke="#E3962A"/>
<rect x="1151.05" y="1418.55" width="9.9" height="6.1" stroke="#E3962A" fill="#ffffff"/>
<line x1="1151.05" y1="1421.6" x2="1160.95" y2="1421.6" stroke="#E3962A" stroke-width="5.4"/>
<line x1="1204.4" y1="1408" x2="1204.4" y2="1412.85" stroke="#7DB12B"/>
<line x1="1204.4" y1="1418.65" x2="1204.4" y2="1423" stroke="#7DB12B"/>
<rect x="1199.45" y="1412.85" width="9.9" height="5.8" stroke="#7DB12B" fill="#ffffff"/>
<line x1="1199.45" y1="1415.75" x2="1209.35" y2="1415.75" stroke="#7DB12B" stroke-width="5.4"/>
<line x1="1221" y1="1394" x2="1221" y2="1403.35" stroke="#5B7FBC"/>
<line x1="1221" y1="1418.65" x2="1221" y2="1422" stroke="#5B7FBC"/>
<rect x="1216.05" y="1403.35" width="9.9" height="15.3" stroke="#5B7FBC" fill="#ffffff"/>
<line x1="1216.05" y1="1413.5" x2="1225.95" y2="1413.5" stroke="#5B7FBC" stroke-width="5.4"/>
<line x1="1236.4" y1="1401.5" x2="1236.4" y2="1407.35" stroke="#E3962A"/>
<line x1="1236.4" y1="1413.65" x2="1236.4" y2="1422" stroke="#E3962A"/>
<rect x="1231.45" y="1407.35" width="9.9" height="6.3" stroke="#E3962A" fill="#ffffff"/>
<line x1="1231.45" y1="1411.8" x2="1241.35" y2="1411.8" stroke="#E3962A" stroke-width="5.4"/>
<circle cx="1236.4" cy="1395.6" r="2.9" fill="#E3962A" stroke="none"/>
<line x1="1276.4" y1="1380.4" x2="1276.4" y2="1392.55" stroke="#7DB12B"/>
<line x1="1276.4" y1="1403.15" x2="1276.4" y2="1408" stroke="#7DB12B"/>
<rect x="1271.45" y="1392.55" width="9.9" height="10.6" stroke="#7DB12B" fill="#ffffff"/>
<line x1="1271.45" y1="1396.4" x2="1281.35" y2="1396.4" stroke="#7DB12B" stroke-width="5.4"/>
<line x1="1292.4" y1="1397" x2="1292.4" y2="1404.85" stroke="#5B7FBC"/>
<line x1="1292.4" y1="1416.65" x2="1292.4" y2="1421.6" stroke="#5B7FBC"/>
<rect x="1287.45" y="1404.85" width="9.9" height="11.8" stroke="#5B7FBC" fill="#ffffff"/>
<line x1="1287.45" y1="1413.2" x2="1297.35" y2="1413.2" stroke="#5B7FBC" stroke-width="5.4"/>
<line x1="1308.6" y1="1410" x2="1308.6" y2="1412.35" stroke="#E3962A"/>
<line x1="1308.6" y1="1423.65" x2="1308.6" y2="1426" stroke="#E3962A"/>
<rect x="1303.65" y="1412.35" width="9.9" height="11.3" stroke="#E3962A" fill="#ffffff"/>
<line x1="1303.65" y1="1420.2" x2="1313.55" y2="1420.2" stroke="#E3962A" stroke-width="5.4"/>
<circle cx="1308.6" cy="1244.8" r="2.9" fill="#E3962A" stroke="none"/>
<line x1="1353" y1="1389.6" x2="1353" y2="1392.95" stroke="#7DB12B"/>
<line x1="1353" y1="1409.25" x2="1353" y2="1413" stroke="#7DB12B"/>
<rect x="1348.05" y="1392.95" width="9.9" height="16.3" stroke="#7DB12B" fill="#ffffff"/>
<line x1="1348.05" y1="1401" x2="1357.95" y2="1401" stroke="#7DB12B" stroke-width="5.4"/>
<line x1="1369.4" y1="1376" x2="1369.4" y2="1381.35" stroke="#5B7FBC"/>
<line x1="1369.4" y1="1408.05" x2="1369.4" y2="1418" stroke="#5B7FBC"/>
<rect x="1364.45" y="1381.35" width="9.9" height="26.7" stroke="#5B7FBC" fill="#ffffff"/>
<line x1="1364.45" y1="1396.6" x2="1374.35" y2="1396.6" stroke="#5B7FBC" stroke-width="5.4"/>
<circle cx="1369.4" cy="1317" r="2.9" fill="#5B7FBC" stroke="none"/>
<line x1="1385.2" y1="1405" x2="1385.2" y2="1410.35" stroke="#E3962A"/>
<rect x="1380.25" y="1410.35" width="9.9" height="12.3" stroke="#E3962A" fill="#ffffff"/>
<line x1="1380.25" y1="1420" x2="1390.15" y2="1420" stroke="#E3962A" stroke-width="5.4"/>
<circle cx="1385.2" cy="1329" r="2.9" fill="#E3962A" stroke="none"/>
<line x1="1428" y1="1316" x2="1428" y2="1330.75" stroke="#7DB12B"/>
<line x1="1428" y1="1391.45" x2="1428" y2="1410.6" stroke="#7DB12B"/>
<rect x="1423.05" y="1330.75" width="9.9" height="60.7" stroke="#7DB12B" fill="#ffffff"/>
<line x1="1423.05" y1="1341" x2="1432.95" y2="1341" stroke="#7DB12B" stroke-width="5.4"/>
<circle cx="1428" cy="1076.4" r="2.9" fill="#7DB12B" stroke="none"/>
<line x1="1444.6" y1="1249.4" x2="1444.6" y2="1308.75" stroke="#5B7FBC"/>
<line x1="1444.6" y1="1355.05" x2="1444.6" y2="1370.4" stroke="#5B7FBC"/>
<rect x="1439.65" y="1308.75" width="9.9" height="46.3" stroke="#5B7FBC" fill="#ffffff"/>
<line x1="1439.65" y1="1338.4" x2="1449.55" y2="1338.4" stroke="#5B7FBC" stroke-width="5.4"/>
<line x1="1460.6" y1="1295.6" x2="1460.6" y2="1315.75" stroke="#E3962A"/>
<line x1="1460.6" y1="1367.25" x2="1460.6" y2="1382.4" stroke="#E3962A"/>
<rect x="1455.65" y="1315.75" width="9.9" height="51.5" stroke="#E3962A" fill="#ffffff"/>
<line x1="1455.65" y1="1363" x2="1465.55" y2="1363" stroke="#E3962A" stroke-width="5.4"/>
<circle cx="1460.6" cy="1168.6" r="2.9" fill="#E3962A" stroke="none"/>
<line x1="1498.4" y1="1373" x2="1498.4" y2="1383.35" stroke="#7DB12B"/>
<line x1="1498.4" y1="1403.65" x2="1498.4" y2="1415.6" stroke="#7DB12B"/>
<rect x="1493.45" y="1383.35" width="9.9" height="20.3" stroke="#7DB12B" fill="#ffffff"/>
<line x1="1493.45" y1="1393.6" x2="1503.35" y2="1393.6" stroke="#7DB12B" stroke-width="5.4"/>
<line x1="1514.4" y1="1400" x2="1514.4" y2="1408.15" stroke="#5B7FBC"/>
<line x1="1514.4" y1="1414.15" x2="1514.4" y2="1419" stroke="#5B7FBC"/>
<rect x="1509.45" y="1408.15" width="9.9" height="6" stroke="#5B7FBC" fill="#ffffff"/>
<line x1="1509.45" y1="1411.2" x2="1519.35" y2="1411.2" stroke="#5B7FBC" stroke-width="5.4"/>
<circle cx="1514.4" cy="1391" r="2.9" fill="#5B7FBC" stroke="none"/>
<line x1="1530.4" y1="1405" x2="1530.4" y2="1407.55" stroke="#E3962A"/>
<line x1="1530.4" y1="1417.65" x2="1530.4" y2="1420.5" stroke="#E3962A"/>
<rect x="1525.45" y="1407.55" width="9.9" height="10.1" stroke="#E3962A" fill="#ffffff"/>
<line x1="1525.45" y1="1415.3" x2="1535.35" y2="1415.3" stroke="#E3962A" stroke-width="5.4"/>
<circle cx="1530.4" cy="1365.4" r="2.9" fill="#E3962A" stroke="none"/>
<circle cx="1530.4" cy="1369.6" r="2.9" fill="#E3962A" stroke="none"/>
</g>
<g fill="#7DB12B" fill-opacity="0.3">
<circle cx="222.4" cy="151.6" r="2.7"/>
<circle cx="228.6" cy="151.2" r="2.7"/>
<circle cx="233.6" cy="186" r="2.7"/>
<circle cx="229.6" cy="213" r="2.7"/>
<circle cx="228" cy="229" r="2.7"/>
<circle cx="229" cy="233.2" r="2.7"/>
<circle cx="239.2" cy="296" r="2.7"/>
<circle cx="237.2" cy="338.4" r="2.7"/>
<circle cx="302" cy="353.6" r="2.7"/>
<circle cx="97.6" cy="412" r="2.7"/>
<circle cx="100.6" cy="421.6" r="2.7"/>
<circle cx="102.6" cy="454.4" r="2.7"/>
<circle cx="94.4" cy="467" r="2.7"/>
<circle cx="85.6" cy="477.6" r="2.7"/>
<circle cx="92" cy="500" r="2.7"/>
<circle cx="300" cy="399.6" r="2.7"/>
<circle cx="311.6" cy="412" r="2.7"/>
<circle cx="317.6" cy="423.6" r="2.7"/>
<circle cx="304.4" cy="429" r="2.7"/>
<circle cx="301.2" cy="453.2" r="2.7"/>
<circle cx="391.4" cy="465" r="2.7"/>
<circle cx="392.4" cy="472" r="2.7"/>
<circle cx="396" cy="478" r="2.7"/>
<circle cx="390" cy="495" r="2.7"/>
<circle cx="393.4" cy="502" r="2.7"/>
<circle cx="168" cy="518.6" r="2.7"/>
<circle cx="167.4" cy="549" r="2.7"/>
<circle cx="151" cy="553.6" r="2.7"/>
<circle cx="163" cy="561" r="2.7"/>
<circle cx="151.4" cy="570" r="2.7"/>
<circle cx="168.2" cy="576.6" r="2.7"/>
<circle cx="467" cy="168.4" r="2.7"/>
<circle cx="467" cy="182.8" r="2.7"/>
<circle cx="464.2" cy="209.2" r="2.7"/>
<circle cx="461.8" cy="231" r="2.7"/>
<circle cx="453.6" cy="250.4" r="2.7"/>
<circle cx="462" cy="300" r="2.7"/>
<circle cx="467.6" cy="316.4" r="2.7"/>
<circle cx="455.6" cy="337.4" r="2.7"/>
<circle cx="543.6" cy="258" r="2.7"/>
<circle cx="538" cy="264.4" r="2.7"/>
<circle cx="532.6" cy="267.6" r="2.7"/>
<circle cx="533.2" cy="273.6" r="2.7"/>
<circle cx="539" cy="312.6" r="2.7"/>
<circle cx="548.4" cy="314.6" r="2.7"/>
<circle cx="534" cy="330.6" r="2.7"/>
<circle cx="536.8" cy="342.6" r="2.7"/>
<circle cx="613" cy="88" r="2.7"/>
<circle cx="627.6" cy="146.4" r="2.7"/>
<circle cx="622.4" cy="166.4" r="2.7"/>
<circle cx="627" cy="196" r="2.7"/>
<circle cx="627" cy="211.4" r="2.7"/>
<circle cx="622.4" cy="257.2" r="2.7"/>
<circle cx="622" cy="292" r="2.7"/>
<circle cx="615" cy="245" r="2.7"/>
<circle cx="704.6" cy="195" r="2.7"/>
<circle cx="704.6" cy="273.4" r="2.7"/>
<circle cx="697" cy="280" r="2.7"/>
<circle cx="702" cy="292.4" r="2.7"/>
<circle cx="701" cy="320.6" r="2.7"/>
<circle cx="703" cy="328" r="2.7"/>
<circle cx="697" cy="386" r="2.7"/>
<circle cx="697.6" cy="429.6" r="2.7"/>
<circle cx="892.4" cy="180" r="2.7"/>
<circle cx="894.4" cy="194.4" r="2.7"/>
<circle cx="890.4" cy="216.4" r="2.7"/>
<circle cx="896.4" cy="221.6" r="2.7"/>
<circle cx="895.6" cy="243.4" r="2.7"/>
<circle cx="889.4" cy="254.8" r="2.7"/>
<circle cx="899.4" cy="325" r="2.7"/>
<circle cx="968" cy="329.6" r="2.7"/>
<circle cx="974.4" cy="342.4" r="2.7"/>
<circle cx="1034.4" cy="179.6" r="2.7"/>
<circle cx="1040" cy="186" r="2.7"/>
<circle cx="1037.6" cy="195.6" r="2.7"/>
<circle cx="1049.4" cy="207.6" r="2.7"/>
<circle cx="1033" cy="210.6" r="2.7"/>
<circle cx="1038.6" cy="279.6" r="2.7"/>
<circle cx="1122.6" cy="184.4" r="2.7"/>
<circle cx="1129" cy="204" r="2.7"/>
<circle cx="1120.8" cy="218.4" r="2.7"/>
<circle cx="1125.2" cy="232.6" r="2.7"/>
<circle cx="1129" cy="232.4" r="2.7"/>
<circle cx="1123.6" cy="247.4" r="2.7"/>
<circle cx="1113.4" cy="283.2" r="2.7"/>
<circle cx="1205.8" cy="228" r="2.7"/>
<circle cx="1200.6" cy="237.4" r="2.7"/>
<circle cx="1194" cy="257" r="2.7"/>
<circle cx="1205.4" cy="266.4" r="2.7"/>
<circle cx="1209" cy="277.4" r="2.7"/>
<circle cx="1205.4" cy="280.6" r="2.7"/>
<circle cx="1194" cy="312.4" r="2.7"/>
<circle cx="1210.4" cy="334.4" r="2.7"/>
<circle cx="886.4" cy="365.2" r="2.7"/>
<circle cx="963.4" cy="362.6" r="2.7"/>
<circle cx="971.2" cy="384.6" r="2.7"/>
<circle cx="973.6" cy="399.4" r="2.7"/>
<circle cx="969.4" cy="404.4" r="2.7"/>
<circle cx="966.6" cy="406" r="2.7"/>
<circle cx="973.2" cy="425.2" r="2.7"/>
<circle cx="1280.8" cy="107.4" r="2.7"/>
<circle cx="1282.4" cy="136" r="2.7"/>
<circle cx="1279.4" cy="164.6" r="2.7"/>
<circle cx="1268" cy="166.6" r="2.7"/>
<circle cx="1266.4" cy="182" r="2.7"/>
<circle cx="1268.4" cy="195.6" r="2.7"/>
<circle cx="1283.4" cy="229.2" r="2.7"/>
<circle cx="1278" cy="279.6" r="2.7"/>
<circle cx="1344" cy="142.4" r="2.7"/>
<circle cx="1346.4" cy="146.4" r="2.7"/>
<circle cx="1358" cy="169" r="2.7"/>
<circle cx="1343.6" cy="181.6" r="2.7"/>
<circle cx="1351.4" cy="199.4" r="2.7"/>
<circle cx="1355.2" cy="206" r="2.7"/>
<circle cx="1353.6" cy="311.4" r="2.7"/>
<circle cx="1425" cy="142" r="2.7"/>
<circle cx="1424.4" cy="156.6" r="2.7"/>
<circle cx="1430" cy="210" r="2.7"/>
<circle cx="1429.4" cy="247.4" r="2.7"/>
<circle cx="1432.6" cy="259" r="2.7"/>
<circle cx="1435" cy="329" r="2.7"/>
<circle cx="1423" cy="343.4" r="2.7"/>
<circle cx="1511" cy="192.6" r="2.7"/>
<circle cx="1511" cy="271" r="2.7"/>
<circle cx="1503" cy="278" r="2.7"/>
<circle cx="1508.2" cy="290.4" r="2.7"/>
<circle cx="1507" cy="318.4" r="2.7"/>
<circle cx="1509.2" cy="325.6" r="2.7"/>
<circle cx="1435.4" cy="384.2" r="2.7"/>
<circle cx="1503" cy="383.6" r="2.7"/>
<circle cx="1504" cy="427.2" r="2.7"/>
<circle cx="94" cy="977" r="2.7"/>
<circle cx="94.4" cy="986" r="2.7"/>
<circle cx="87" cy="1008.6" r="2.7"/>
<circle cx="88" cy="1030" r="2.7"/>
<circle cx="92" cy="1059.6" r="2.7"/>
<circle cx="86.6" cy="1063" r="2.7"/>
<circle cx="158" cy="1023.4" r="2.7"/>
<circle cx="160.6" cy="1051.6" r="2.7"/>
<circle cx="167.4" cy="1056" r="2.7"/>
<circle cx="159.6" cy="1139.4" r="2.7"/>
<circle cx="243" cy="989.6" r="2.7"/>
<circle cx="240" cy="999" r="2.7"/>
<circle cx="244.6" cy="1056" r="2.7"/>
<circle cx="240.4" cy="1066" r="2.7"/>
<circle cx="238" cy="1107" r="2.7"/>
<circle cx="229.4" cy="1132.6" r="2.7"/>
<circle cx="312.4" cy="994.4" r="2.7"/>
<circle cx="322" cy="1004.4" r="2.7"/>
<circle cx="321.4" cy="1035.6" r="2.7"/>
<circle cx="318.6" cy="1048.4" r="2.7"/>
<circle cx="312" cy="1127.2" r="2.7"/>
<circle cx="388" cy="984.4" r="2.7"/>
<circle cx="393.4" cy="983" r="2.7"/>
<circle cx="395" cy="997" r="2.7"/>
<circle cx="388" cy="1012" r="2.7"/>
<circle cx="391" cy="1054.4" r="2.7"/>
<circle cx="398" cy="1138.2" r="2.7"/>
<circle cx="84.4" cy="1222.2" r="2.7"/>
<circle cx="173.2" cy="1253.6" r="2.7"/>
<circle cx="159.2" cy="1366" r="2.7"/>
<circle cx="467.4" cy="1066" r="2.7"/>
<circle cx="466" cy="1072" r="2.7"/>
<circle cx="473" cy="1084.4" r="2.7"/>
<circle cx="460.6" cy="1088" r="2.7"/>
<circle cx="470.4" cy="1094.6" r="2.7"/>
<circle cx="471" cy="1146.6" r="2.7"/>
<circle cx="537" cy="982.6" r="2.7"/>
<circle cx="551.2" cy="996.6" r="2.7"/>
<circle cx="539.4" cy="1018" r="2.7"/>
<circle cx="536.4" cy="1034.4" r="2.7"/>
<circle cx="550" cy="1038.6" r="2.7"/>
<circle cx="542.4" cy="1078" r="2.7"/>
<circle cx="537.4" cy="1086.2" r="2.7"/>
<circle cx="614.6" cy="1058.2" r="2.7"/>
<circle cx="620.6" cy="1340.4" r="2.7"/>
<circle cx="619" cy="1350" r="2.7"/>
<circle cx="615" cy="1378" r="2.7"/>
<circle cx="623.4" cy="1386" r="2.7"/>
<circle cx="623.4" cy="1393" r="2.7"/>
<circle cx="611" cy="1412" r="2.7"/>
<circle cx="624" cy="1415" r="2.7"/>
<circle cx="689.2" cy="1276.6" r="2.7"/>
<circle cx="699.4" cy="1294" r="2.7"/>
<circle cx="689" cy="1305" r="2.7"/>
<circle cx="694.4" cy="1313.6" r="2.7"/>
<circle cx="693.4" cy="1328" r="2.7"/>
<circle cx="699" cy="1335.2" r="2.7"/>
<circle cx="693.6" cy="1367.4" r="2.7"/>
<circle cx="909" cy="1422.4" r="2.7"/>
<circle cx="904" cy="1425.6" r="2.7"/>
<circle cx="913" cy="1425.6" r="2.7"/>
<circle cx="907" cy="1405" r="2.7"/>
<circle cx="974.4" cy="1419.6" r="2.7"/>
<circle cx="984" cy="1418.6" r="2.7"/>
<circle cx="979" cy="1425.6" r="2.7"/>
<circle cx="1044" cy="1368" r="2.7"/>
<circle cx="1049.4" cy="1365.4" r="2.7"/>
<circle cx="1055" cy="1375" r="2.7"/>
<circle cx="1042.4" cy="1395" r="2.7"/>
<circle cx="1052.6" cy="1403.6" r="2.7"/>
<circle cx="1122.6" cy="1393" r="2.7"/>
<circle cx="1120" cy="1398" r="2.7"/>
<circle cx="1117.6" cy="1410.6" r="2.7"/>
<circle cx="1129.6" cy="1416" r="2.7"/>
<circle cx="1199.6" cy="1408" r="2.7"/>
<circle cx="1206.4" cy="1408" r="2.7"/>
<circle cx="1198" cy="1423" r="2.7"/>
<circle cx="1205.6" cy="1421" r="2.7"/>
<circle cx="1425.6" cy="1076.4" r="2.7"/>
<circle cx="1279.4" cy="1380" r="2.7"/>
<circle cx="1282.6" cy="1388.4" r="2.7"/>
<circle cx="1278" cy="1408.6" r="2.7"/>
<circle cx="1282.4" cy="1407" r="2.7"/>
<circle cx="1357" cy="1389.6" r="2.7"/>
<circle cx="1352" cy="1390.6" r="2.7"/>
<circle cx="1359.4" cy="1411" r="2.7"/>
<circle cx="1358.6" cy="1413.4" r="2.7"/>
<circle cx="1429.4" cy="1315.6" r="2.7"/>
<circle cx="1434" cy="1336" r="2.7"/>
<circle cx="1425" cy="1347" r="2.7"/>
<circle cx="1433" cy="1391.4" r="2.7"/>
<circle cx="1431" cy="1411" r="2.7"/>
<circle cx="1495.4" cy="1373" r="2.7"/>
<circle cx="1493.4" cy="1377" r="2.7"/>
<circle cx="1497" cy="1389" r="2.7"/>
<circle cx="1500.6" cy="1398" r="2.7"/>
<circle cx="1494.6" cy="1416" r="2.7"/>
</g>
<g fill="#5B7FBC" fill-opacity="0.3">
<circle cx="109.6" cy="279.6" r="2.7"/>
<circle cx="121" cy="335.4" r="2.7"/>
<circle cx="117" cy="351" r="2.7"/>
<circle cx="248" cy="218.4" r="2.7"/>
<circle cx="255" cy="216.8" r="2.7"/>
<circle cx="248.4" cy="235" r="2.7"/>
<circle cx="250" cy="242" r="2.7"/>
<circle cx="259.6" cy="252" r="2.7"/>
<circle cx="256" cy="293.4" r="2.7"/>
<circle cx="260.4" cy="309" r="2.7"/>
<circle cx="247.4" cy="341.2" r="2.7"/>
<circle cx="118.4" cy="371.4" r="2.7"/>
<circle cx="117" cy="378" r="2.7"/>
<circle cx="117.4" cy="414.4" r="2.7"/>
<circle cx="112" cy="417.4" r="2.7"/>
<circle cx="107.6" cy="443.2" r="2.7"/>
<circle cx="109.2" cy="472" r="2.7"/>
<circle cx="115.2" cy="498.4" r="2.7"/>
<circle cx="251.4" cy="372.4" r="2.7"/>
<circle cx="245.4" cy="406" r="2.7"/>
<circle cx="326" cy="362" r="2.7"/>
<circle cx="337" cy="370.8" r="2.7"/>
<circle cx="335.6" cy="393.6" r="2.7"/>
<circle cx="327.4" cy="412.6" r="2.7"/>
<circle cx="324" cy="447.4" r="2.7"/>
<circle cx="328" cy="459.4" r="2.7"/>
<circle cx="333.6" cy="458.6" r="2.7"/>
<circle cx="322.2" cy="465.8" r="2.7"/>
<circle cx="417.6" cy="482" r="2.7"/>
<circle cx="401" cy="493.4" r="2.7"/>
<circle cx="416" cy="499" r="2.7"/>
<circle cx="403" cy="535" r="2.7"/>
<circle cx="406.6" cy="531.4" r="2.7"/>
<circle cx="414" cy="523.4" r="2.7"/>
<circle cx="180" cy="539.6" r="2.7"/>
<circle cx="189.4" cy="544.8" r="2.7"/>
<circle cx="175" cy="552.4" r="2.7"/>
<circle cx="188" cy="556" r="2.7"/>
<circle cx="186" cy="562.4" r="2.7"/>
<circle cx="173.6" cy="569.6" r="2.7"/>
<circle cx="176" cy="584.6" r="2.7"/>
<circle cx="474" cy="206" r="2.7"/>
<circle cx="486" cy="265.6" r="2.7"/>
<circle cx="479.4" cy="287" r="2.7"/>
<circle cx="486" cy="327" r="2.7"/>
<circle cx="475" cy="330" r="2.7"/>
<circle cx="491.4" cy="337" r="2.7"/>
<circle cx="490" cy="350" r="2.7"/>
<circle cx="475" cy="353" r="2.7"/>
<circle cx="567.6" cy="226" r="2.7"/>
<circle cx="566" cy="234" r="2.7"/>
<circle cx="561" cy="240.6" r="2.7"/>
<circle cx="562.8" cy="249" r="2.7"/>
<circle cx="567" cy="250" r="2.7"/>
<circle cx="561.6" cy="289" r="2.7"/>
<circle cx="563.6" cy="298" r="2.7"/>
<circle cx="649" cy="83.2" r="2.7"/>
<circle cx="637" cy="89" r="2.7"/>
<circle cx="637" cy="96" r="2.7"/>
<circle cx="647" cy="98" r="2.7"/>
<circle cx="641.2" cy="148.4" r="2.7"/>
<circle cx="644.6" cy="192" r="2.7"/>
<circle cx="642.4" cy="237.2" r="2.7"/>
<circle cx="634" cy="250.2" r="2.7"/>
<circle cx="637.6" cy="273.6" r="2.7"/>
<circle cx="639" cy="342" r="2.7"/>
<circle cx="721" cy="256" r="2.7"/>
<circle cx="714.4" cy="291.2" r="2.7"/>
<circle cx="713" cy="342" r="2.7"/>
<circle cx="720" cy="351" r="2.7"/>
<circle cx="474.4" cy="385.6" r="2.7"/>
<circle cx="475.8" cy="416.2" r="2.7"/>
<circle cx="557.4" cy="378" r="2.7"/>
<circle cx="566" cy="381" r="2.7"/>
<circle cx="560.6" cy="421.2" r="2.7"/>
<circle cx="718.2" cy="384" r="2.7"/>
<circle cx="724" cy="406.4" r="2.7"/>
<circle cx="718.4" cy="414.2" r="2.7"/>
<circle cx="916.6" cy="175.6" r="2.7"/>
<circle cx="913.6" cy="224.4" r="2.7"/>
<circle cx="916.2" cy="265" r="2.7"/>
<circle cx="912" cy="335.4" r="2.7"/>
<circle cx="1054.4" cy="147.6" r="2.7"/>
<circle cx="1055" cy="156.4" r="2.7"/>
<circle cx="1062.4" cy="164.4" r="2.7"/>
<circle cx="1059.6" cy="175.6" r="2.7"/>
<circle cx="1064" cy="195.6" r="2.7"/>
<circle cx="1061.6" cy="206.6" r="2.7"/>
<circle cx="1059" cy="209" r="2.7"/>
<circle cx="1061" cy="217.6" r="2.7"/>
<circle cx="1059.6" cy="295.6" r="2.7"/>
<circle cx="1070.6" cy="334.8" r="2.7"/>
<circle cx="1140" cy="191.6" r="2.7"/>
<circle cx="1144.6" cy="205" r="2.7"/>
<circle cx="1139.4" cy="216.4" r="2.7"/>
<circle cx="1146.4" cy="226.6" r="2.7"/>
<circle cx="1136" cy="239.6" r="2.7"/>
<circle cx="1135.8" cy="272" r="2.7"/>
<circle cx="1148" cy="274.6" r="2.7"/>
<circle cx="1138" cy="300.4" r="2.7"/>
<circle cx="907.4" cy="375.4" r="2.7"/>
<circle cx="920.6" cy="397.4" r="2.7"/>
<circle cx="916" cy="410.6" r="2.7"/>
<circle cx="909.4" cy="424.4" r="2.7"/>
<circle cx="910.4" cy="508.4" r="2.7"/>
<circle cx="910.8" cy="520.6" r="2.7"/>
<circle cx="909.8" cy="537.4" r="2.7"/>
<circle cx="988.2" cy="375.4" r="2.7"/>
<circle cx="991.6" cy="393.2" r="2.7"/>
<circle cx="994.6" cy="402.2" r="2.7"/>
<circle cx="993.6" cy="421.4" r="2.7"/>
<circle cx="994" cy="439.6" r="2.7"/>
<circle cx="999" cy="444.4" r="2.7"/>
<circle cx="991.6" cy="448" r="2.7"/>
<circle cx="998.6" cy="480.2" r="2.7"/>
<circle cx="987" cy="529.6" r="2.7"/>
<circle cx="1218.2" cy="431" r="2.7"/>
<circle cx="1222" cy="277" r="2.7"/>
<circle cx="1230.4" cy="305.6" r="2.7"/>
<circle cx="1226" cy="325" r="2.7"/>
<circle cx="1291.6" cy="140" r="2.7"/>
<circle cx="1292.6" cy="146.4" r="2.7"/>
<circle cx="1298.4" cy="153" r="2.7"/>
<circle cx="1296.2" cy="163" r="2.7"/>
<circle cx="1288" cy="182.4" r="2.7"/>
<circle cx="1292" cy="198" r="2.7"/>
<circle cx="1298" cy="205" r="2.7"/>
<circle cx="1303.2" cy="211.4" r="2.7"/>
<circle cx="1296" cy="212" r="2.7"/>
<circle cx="1291.2" cy="311.6" r="2.7"/>
<circle cx="1376.6" cy="144" r="2.7"/>
<circle cx="1371.4" cy="165" r="2.7"/>
<circle cx="1368.6" cy="186.6" r="2.7"/>
<circle cx="1363.2" cy="191" r="2.7"/>
<circle cx="1373.2" cy="192.4" r="2.7"/>
<circle cx="1370.4" cy="229.6" r="2.7"/>
<circle cx="1378.6" cy="235.6" r="2.7"/>
<circle cx="1378" cy="253" r="2.7"/>
<circle cx="1367.4" cy="281.2" r="2.7"/>
<circle cx="1454" cy="169.4" r="2.7"/>
<circle cx="1452" cy="189.6" r="2.7"/>
<circle cx="1453.6" cy="238" r="2.7"/>
<circle cx="1445.6" cy="243" r="2.7"/>
<circle cx="1453" cy="246.6" r="2.7"/>
<circle cx="1452" cy="284.6" r="2.7"/>
<circle cx="1445.8" cy="325" r="2.7"/>
<circle cx="1527.6" cy="253.6" r="2.7"/>
<circle cx="1521" cy="289" r="2.7"/>
<circle cx="1519.2" cy="339.6" r="2.7"/>
<circle cx="1526.6" cy="349.4" r="2.7"/>
<circle cx="1221.6" cy="356.4" r="2.7"/>
<circle cx="1225.6" cy="380.6" r="2.7"/>
<circle cx="1224.4" cy="399" r="2.7"/>
<circle cx="1228" cy="405" r="2.7"/>
<circle cx="1222" cy="440" r="2.7"/>
<circle cx="1230" cy="466.4" r="2.7"/>
<circle cx="1220" cy="431" r="2.7"/>
<circle cx="1369" cy="399.4" r="2.7"/>
<circle cx="1449" cy="375" r="2.7"/>
<circle cx="1442.4" cy="377.4" r="2.7"/>
<circle cx="1445.2" cy="413.2" r="2.7"/>
<circle cx="1524.4" cy="381.6" r="2.7"/>
<circle cx="1530.6" cy="404.4" r="2.7"/>
<circle cx="1524.6" cy="412.2" r="2.7"/>
<circle cx="1532" cy="400" r="2.7"/>
<circle cx="105.4" cy="973.8" r="2.7"/>
<circle cx="106.6" cy="1041.6" r="2.7"/>
<circle cx="179.4" cy="994" r="2.7"/>
<circle cx="178" cy="1016" r="2.7"/>
<circle cx="194" cy="1015.4" r="2.7"/>
<circle cx="184" cy="1025" r="2.7"/>
<circle cx="187.4" cy="1109" r="2.7"/>
<circle cx="183.4" cy="1112.4" r="2.7"/>
<circle cx="183" cy="1144.6" r="2.7"/>
<circle cx="178.6" cy="1148.6" r="2.7"/>
<circle cx="257" cy="1021.4" r="2.7"/>
<circle cx="254" cy="1043" r="2.7"/>
<circle cx="264.4" cy="1054.6" r="2.7"/>
<circle cx="255" cy="1062.4" r="2.7"/>
<circle cx="262.4" cy="1073.6" r="2.7"/>
<circle cx="250.4" cy="1117.6" r="2.7"/>
<circle cx="257.6" cy="1139.4" r="2.7"/>
<circle cx="337" cy="1021.6" r="2.7"/>
<circle cx="332.6" cy="1034.6" r="2.7"/>
<circle cx="335.6" cy="1039.4" r="2.7"/>
<circle cx="342.4" cy="1049.4" r="2.7"/>
<circle cx="326" cy="1158.4" r="2.7"/>
<circle cx="410.6" cy="1039.4" r="2.7"/>
<circle cx="415" cy="1043.4" r="2.7"/>
<circle cx="408.4" cy="1117" r="2.7"/>
<circle cx="413.6" cy="1124" r="2.7"/>
<circle cx="114.2" cy="1203" r="2.7"/>
<circle cx="113" cy="1219.6" r="2.7"/>
<circle cx="107" cy="1256.6" r="2.7"/>
<circle cx="112.4" cy="1261" r="2.7"/>
<circle cx="116.4" cy="1268" r="2.7"/>
<circle cx="110.2" cy="1282" r="2.7"/>
<circle cx="191.8" cy="1295.4" r="2.7"/>
<circle cx="257" cy="1198" r="2.7"/>
<circle cx="254" cy="1212" r="2.7"/>
<circle cx="253.2" cy="1223" r="2.7"/>
<circle cx="262" cy="1309.4" r="2.7"/>
<circle cx="335" cy="1222.6" r="2.7"/>
<circle cx="332.4" cy="1247.8" r="2.7"/>
<circle cx="333.6" cy="1267.4" r="2.7"/>
<circle cx="339" cy="1273.4" r="2.7"/>
<circle cx="413" cy="1281.4" r="2.7"/>
<circle cx="408.4" cy="1286.6" r="2.7"/>
<circle cx="404.6" cy="1315" r="2.7"/>
<circle cx="412.8" cy="1315" r="2.7"/>
<circle cx="421" cy="1163.4" r="2.7"/>
<circle cx="486" cy="1052.4" r="2.7"/>
<circle cx="495" cy="1055" r="2.7"/>
<circle cx="480" cy="1061.6" r="2.7"/>
<circle cx="492" cy="1073" r="2.7"/>
<circle cx="490.4" cy="1090.6" r="2.7"/>
<circle cx="480.4" cy="1117.6" r="2.7"/>
<circle cx="487" cy="1158.4" r="2.7"/>
<circle cx="565" cy="1027.6" r="2.7"/>
<circle cx="560.8" cy="1055.4" r="2.7"/>
<circle cx="561.4" cy="1101" r="2.7"/>
<circle cx="563.6" cy="1110.4" r="2.7"/>
<circle cx="558.6" cy="1113" r="2.7"/>
<circle cx="641.4" cy="1016.6" r="2.7"/>
<circle cx="633" cy="1055.4" r="2.7"/>
<circle cx="645" cy="1074" r="2.7"/>
<circle cx="647" cy="1088.6" r="2.7"/>
<circle cx="646.4" cy="1138.6" r="2.7"/>
<circle cx="715.2" cy="1019.4" r="2.7"/>
<circle cx="717.6" cy="1098.6" r="2.7"/>
<circle cx="721" cy="1123" r="2.7"/>
<circle cx="722" cy="1153.6" r="2.7"/>
<circle cx="420" cy="1274" r="2.7"/>
<circle cx="486" cy="1196.6" r="2.7"/>
<circle cx="494" cy="1223" r="2.7"/>
<circle cx="489" cy="1270.8" r="2.7"/>
<circle cx="557.4" cy="1176.2" r="2.7"/>
<circle cx="566" cy="1246" r="2.7"/>
<circle cx="561" cy="1249.6" r="2.7"/>
<circle cx="566.6" cy="1278.6" r="2.7"/>
<circle cx="567.2" cy="1335" r="2.7"/>
<circle cx="647" cy="1200.6" r="2.7"/>
<circle cx="646.2" cy="1221.4" r="2.7"/>
<circle cx="642.6" cy="1264.4" r="2.7"/>
<circle cx="639.4" cy="1334.4" r="2.7"/>
<circle cx="713.6" cy="1213.6" r="2.7"/>
<circle cx="719.4" cy="1226" r="2.7"/>
<circle cx="721.4" cy="1232.6" r="2.7"/>
<circle cx="721.6" cy="1252.4" r="2.7"/>
<circle cx="721.8" cy="1258.6" r="2.7"/>
<circle cx="928" cy="1039.4" r="2.7"/>
<circle cx="928.6" cy="1217.6" r="2.7"/>
<circle cx="929.4" cy="1250.4" r="2.7"/>
<circle cx="919" cy="1289.6" r="2.7"/>
<circle cx="919" cy="1293" r="2.7"/>
<circle cx="925" cy="1402.6" r="2.7"/>
<circle cx="931.4" cy="1401.4" r="2.7"/>
<circle cx="922.6" cy="1425" r="2.7"/>
<circle cx="919.6" cy="1427.4" r="2.7"/>
<circle cx="992" cy="1407.4" r="2.7"/>
<circle cx="996.4" cy="1417.4" r="2.7"/>
<circle cx="990" cy="1424" r="2.7"/>
<circle cx="1001" cy="1421" r="2.7"/>
<circle cx="1000" cy="1425.6" r="2.7"/>
<circle cx="1059.6" cy="1330" r="2.7"/>
<circle cx="1065.4" cy="1362.4" r="2.7"/>
<circle cx="1071.4" cy="1389" r="2.7"/>
<circle cx="1068" cy="1394.4" r="2.7"/>
<circle cx="1071" cy="1401" r="2.7"/>
<circle cx="1059.6" cy="1414.6" r="2.7"/>
<circle cx="1065.6" cy="1415.4" r="2.7"/>
<circle cx="1143" cy="1396.4" r="2.7"/>
<circle cx="1137" cy="1403.4" r="2.7"/>
<circle cx="1133.6" cy="1407.6" r="2.7"/>
<circle cx="1146" cy="1412.6" r="2.7"/>
<circle cx="1136.6" cy="1423.4" r="2.7"/>
<circle cx="1214.4" cy="1396" r="2.7"/>
<circle cx="1223" cy="1394" r="2.7"/>
<circle cx="1225" cy="1400.4" r="2.7"/>
<circle cx="1220" cy="1414" r="2.7"/>
<circle cx="1225" cy="1420.4" r="2.7"/>
<circle cx="1221" cy="1422" r="2.7"/>
<circle cx="1293" cy="1397" r="2.7"/>
<circle cx="1298.6" cy="1398" r="2.7"/>
<circle cx="1286" cy="1410" r="2.7"/>
<circle cx="1295.6" cy="1422" r="2.7"/>
<circle cx="1290" cy="1398.4" r="2.7"/>
<circle cx="1369.6" cy="1375.6" r="2.7"/>
<circle cx="1373.4" cy="1378" r="2.7"/>
<circle cx="1363.4" cy="1407" r="2.7"/>
<circle cx="1373.4" cy="1417.6" r="2.7"/>
<circle cx="1363" cy="1317" r="2.7"/>
<circle cx="1442.4" cy="1249" r="2.7"/>
<circle cx="1443.4" cy="1287.6" r="2.7"/>
<circle cx="1449.4" cy="1296.4" r="2.7"/>
<circle cx="1440.6" cy="1321" r="2.7"/>
<circle cx="1441" cy="1326" r="2.7"/>
<circle cx="1446.6" cy="1344" r="2.7"/>
<circle cx="1448" cy="1367" r="2.7"/>
<circle cx="1449" cy="1370.6" r="2.7"/>
<circle cx="1518" cy="1391" r="2.7"/>
<circle cx="1513.4" cy="1399.6" r="2.7"/>
<circle cx="1510" cy="1413.6" r="2.7"/>
<circle cx="1517" cy="1410" r="2.7"/>
<circle cx="1510" cy="1419" r="2.7"/>
</g>
<g fill="#E3962A" fill-opacity="0.3">
<circle cx="133" cy="96" r="2.7"/>
<circle cx="141.4" cy="176.4" r="2.7"/>
<circle cx="128.6" cy="214.4" r="2.7"/>
<circle cx="144.4" cy="220.4" r="2.7"/>
<circle cx="132.4" cy="241.2" r="2.7"/>
<circle cx="142.8" cy="257.6" r="2.7"/>
<circle cx="129.6" cy="280" r="2.7"/>
<circle cx="134" cy="300.4" r="2.7"/>
<circle cx="139.2" cy="337.2" r="2.7"/>
<circle cx="271" cy="346" r="2.7"/>
<circle cx="270.6" cy="367" r="2.7"/>
<circle cx="266" cy="370.6" r="2.7"/>
<circle cx="269" cy="393.4" r="2.7"/>
<circle cx="282" cy="424" r="2.7"/>
<circle cx="279" cy="433.6" r="2.7"/>
<circle cx="265.4" cy="463.2" r="2.7"/>
<circle cx="279.4" cy="466.8" r="2.7"/>
<circle cx="280" cy="487.4" r="2.7"/>
<circle cx="355" cy="387.8" r="2.7"/>
<circle cx="351" cy="438" r="2.7"/>
<circle cx="346" cy="504" r="2.7"/>
<circle cx="356" cy="485" r="2.7"/>
<circle cx="359.6" cy="521.4" r="2.7"/>
<circle cx="356.4" cy="525.4" r="2.7"/>
<circle cx="357.4" cy="496.6" r="2.7"/>
<circle cx="198" cy="563" r="2.7"/>
<circle cx="196.6" cy="568" r="2.7"/>
<circle cx="194.4" cy="572.4" r="2.7"/>
<circle cx="210" cy="582" r="2.7"/>
<circle cx="207" cy="588" r="2.7"/>
<circle cx="194.8" cy="590.6" r="2.7"/>
<circle cx="500" cy="320" r="2.7"/>
<circle cx="578.4" cy="320.6" r="2.7"/>
<circle cx="653.6" cy="113.6" r="2.7"/>
<circle cx="668.2" cy="226.4" r="2.7"/>
<circle cx="669" cy="246" r="2.7"/>
<circle cx="660.6" cy="256" r="2.7"/>
<circle cx="654.4" cy="286.6" r="2.7"/>
<circle cx="670" cy="296.4" r="2.7"/>
<circle cx="670" cy="302.4" r="2.7"/>
<circle cx="658.4" cy="328.4" r="2.7"/>
<circle cx="742.4" cy="326" r="2.7"/>
<circle cx="737.6" cy="347.4" r="2.7"/>
<circle cx="738.4" cy="352" r="2.7"/>
<circle cx="437.6" cy="482" r="2.7"/>
<circle cx="423.6" cy="499" r="2.7"/>
<circle cx="426" cy="509" r="2.7"/>
<circle cx="428" cy="519" r="2.7"/>
<circle cx="439" cy="529" r="2.7"/>
<circle cx="423.6" cy="537.6" r="2.7"/>
<circle cx="436" cy="530" r="2.7"/>
<circle cx="501.4" cy="373.6" r="2.7"/>
<circle cx="502" cy="393.2" r="2.7"/>
<circle cx="505.6" cy="410" r="2.7"/>
<circle cx="495.6" cy="421.2" r="2.7"/>
<circle cx="510" cy="436" r="2.7"/>
<circle cx="502.4" cy="440.4" r="2.7"/>
<circle cx="508.4" cy="449" r="2.7"/>
<circle cx="503" cy="470" r="2.7"/>
<circle cx="497.8" cy="486" r="2.7"/>
<circle cx="588" cy="365.6" r="2.7"/>
<circle cx="589.4" cy="371" r="2.7"/>
<circle cx="581" cy="382" r="2.7"/>
<circle cx="581" cy="407.6" r="2.7"/>
<circle cx="580" cy="432" r="2.7"/>
<circle cx="586.6" cy="439.6" r="2.7"/>
<circle cx="578.4" cy="452.6" r="2.7"/>
<circle cx="589.6" cy="471.8" r="2.7"/>
<circle cx="589.2" cy="495.6" r="2.7"/>
<circle cx="744.4" cy="370" r="2.7"/>
<circle cx="745.6" cy="392.6" r="2.7"/>
<circle cx="738.4" cy="409" r="2.7"/>
<circle cx="745.6" cy="420.6" r="2.7"/>
<circle cx="738.4" cy="429" r="2.7"/>
<circle cx="938" cy="264" r="2.7"/>
<circle cx="937" cy="290.6" r="2.7"/>
<circle cx="931.6" cy="301" r="2.7"/>
<circle cx="938.4" cy="317.6" r="2.7"/>
<circle cx="940.4" cy="342.4" r="2.7"/>
<circle cx="937.4" cy="321.6" r="2.7"/>
<circle cx="1081.4" cy="159.6" r="2.7"/>
<circle cx="1075.4" cy="175" r="2.7"/>
<circle cx="1090.6" cy="190.4" r="2.7"/>
<circle cx="1086" cy="231.6" r="2.7"/>
<circle cx="1092" cy="235.4" r="2.7"/>
<circle cx="1087.4" cy="270.4" r="2.7"/>
<circle cx="1086.6" cy="273.6" r="2.7"/>
<circle cx="1080.4" cy="320.6" r="2.7"/>
<circle cx="1169.6" cy="183" r="2.7"/>
<circle cx="1156.6" cy="228.6" r="2.7"/>
<circle cx="1173.4" cy="258.6" r="2.7"/>
<circle cx="1166.8" cy="262" r="2.7"/>
<circle cx="1163.4" cy="294" r="2.7"/>
<circle cx="1171" cy="308.6" r="2.7"/>
<circle cx="1160.4" cy="318.4" r="2.7"/>
<circle cx="1171.8" cy="346" r="2.7"/>
<circle cx="939.6" cy="424.4" r="2.7"/>
<circle cx="1003.4" cy="382.6" r="2.7"/>
<circle cx="1011.2" cy="389" r="2.7"/>
<circle cx="1003" cy="424.8" r="2.7"/>
<circle cx="1013.2" cy="440" r="2.7"/>
<circle cx="1006" cy="443.2" r="2.7"/>
<circle cx="1010.8" cy="459.6" r="2.7"/>
<circle cx="1011.2" cy="461.6" r="2.7"/>
<circle cx="1003" cy="484" r="2.7"/>
<circle cx="1007" cy="515.6" r="2.7"/>
<circle cx="1009" cy="592.8" r="2.7"/>
<circle cx="1077.4" cy="376.6" r="2.7"/>
<circle cx="1078" cy="481.8" r="2.7"/>
<circle cx="1158.2" cy="364.6" r="2.7"/>
<circle cx="1157.6" cy="374.6" r="2.7"/>
<circle cx="1239" cy="317" r="2.7"/>
<circle cx="1318.4" cy="203.4" r="2.7"/>
<circle cx="1312.4" cy="215.6" r="2.7"/>
<circle cx="1319" cy="215.6" r="2.7"/>
<circle cx="1316" cy="225.6" r="2.7"/>
<circle cx="1320.4" cy="231.6" r="2.7"/>
<circle cx="1319" cy="311" r="2.7"/>
<circle cx="1323" cy="330.4" r="2.7"/>
<circle cx="1312" cy="355" r="2.7"/>
<circle cx="1398" cy="190" r="2.7"/>
<circle cx="1397.4" cy="217.6" r="2.7"/>
<circle cx="1388" cy="269.6" r="2.7"/>
<circle cx="1394" cy="294.6" r="2.7"/>
<circle cx="1391.2" cy="298.6" r="2.7"/>
<circle cx="1398.6" cy="304.4" r="2.7"/>
<circle cx="1389.8" cy="336" r="2.7"/>
<circle cx="1464" cy="274.4" r="2.7"/>
<circle cx="1462.6" cy="300.6" r="2.7"/>
<circle cx="1471" cy="308" r="2.7"/>
<circle cx="1474.4" cy="320" r="2.7"/>
<circle cx="1548.8" cy="324.4" r="2.7"/>
<circle cx="1543.8" cy="345.4" r="2.7"/>
<circle cx="1544.8" cy="349.6" r="2.7"/>
<circle cx="1249" cy="385" r="2.7"/>
<circle cx="1237.6" cy="388" r="2.7"/>
<circle cx="1243" cy="392.4" r="2.7"/>
<circle cx="1247" cy="403" r="2.7"/>
<circle cx="1253" cy="405.4" r="2.7"/>
<circle cx="1252" cy="408" r="2.7"/>
<circle cx="1240.4" cy="436.4" r="2.7"/>
<circle cx="1242" cy="452.4" r="2.7"/>
<circle cx="1323" cy="362.4" r="2.7"/>
<circle cx="1312" cy="356.6" r="2.7"/>
<circle cx="1312" cy="473" r="2.7"/>
<circle cx="1395" cy="389.6" r="2.7"/>
<circle cx="1472" cy="379" r="2.7"/>
<circle cx="1476.6" cy="378.4" r="2.7"/>
<circle cx="1467.4" cy="382.6" r="2.7"/>
<circle cx="1473.4" cy="397.6" r="2.7"/>
<circle cx="1466.2" cy="465.8" r="2.7"/>
<circle cx="1550.4" cy="368.4" r="2.7"/>
<circle cx="1551.4" cy="391.4" r="2.7"/>
<circle cx="1545" cy="407.4" r="2.7"/>
<circle cx="1553" cy="414.4" r="2.7"/>
<circle cx="1551.8" cy="418.6" r="2.7"/>
<circle cx="1544.6" cy="426.8" r="2.7"/>
<circle cx="133.8" cy="1250.2" r="2.7"/>
<circle cx="127.4" cy="1261.4" r="2.7"/>
<circle cx="129.4" cy="1277" r="2.7"/>
<circle cx="137" cy="1274.4" r="2.7"/>
<circle cx="129.8" cy="1293" r="2.7"/>
<circle cx="137" cy="1317" r="2.7"/>
<circle cx="140" cy="1321.4" r="2.7"/>
<circle cx="198.6" cy="1188.4" r="2.7"/>
<circle cx="213.8" cy="1198.8" r="2.7"/>
<circle cx="210.8" cy="1236.6" r="2.7"/>
<circle cx="214" cy="1267.6" r="2.7"/>
<circle cx="206.4" cy="1298.4" r="2.7"/>
<circle cx="216" cy="1313.2" r="2.7"/>
<circle cx="199.8" cy="1343.4" r="2.7"/>
<circle cx="199.6" cy="1370" r="2.7"/>
<circle cx="209" cy="1372" r="2.7"/>
<circle cx="199" cy="1395.6" r="2.7"/>
<circle cx="286.2" cy="1278.6" r="2.7"/>
<circle cx="273.4" cy="1287.6" r="2.7"/>
<circle cx="276" cy="1285.6" r="2.7"/>
<circle cx="275.6" cy="1307.6" r="2.7"/>
<circle cx="284" cy="1319.6" r="2.7"/>
<circle cx="287" cy="1330" r="2.7"/>
<circle cx="270.6" cy="1341.6" r="2.7"/>
<circle cx="285.4" cy="1345.6" r="2.7"/>
<circle cx="279.6" cy="1362.4" r="2.7"/>
<circle cx="278" cy="1365.4" r="2.7"/>
<circle cx="364" cy="1192" r="2.7"/>
<circle cx="362" cy="1271.4" r="2.7"/>
<circle cx="354.6" cy="1304.8" r="2.7"/>
<circle cx="349.4" cy="1329.4" r="2.7"/>
<circle cx="347.6" cy="1337.4" r="2.7"/>
<circle cx="363" cy="1354" r="2.7"/>
<circle cx="353.6" cy="1356.6" r="2.7"/>
<circle cx="348" cy="1364.6" r="2.7"/>
<circle cx="359" cy="1364" r="2.7"/>
<circle cx="361" cy="1385.4" r="2.7"/>
<circle cx="437" cy="1098.8" r="2.7"/>
<circle cx="668.2" cy="1019.6" r="2.7"/>
<circle cx="655.6" cy="1025.8" r="2.7"/>
<circle cx="654" cy="1062.6" r="2.7"/>
<circle cx="658" cy="1074.4" r="2.7"/>
<circle cx="663.6" cy="1082" r="2.7"/>
<circle cx="664.4" cy="1112.4" r="2.7"/>
<circle cx="655" cy="1144.2" r="2.7"/>
<circle cx="735.6" cy="973.6" r="2.7"/>
<circle cx="739.4" cy="996.6" r="2.7"/>
<circle cx="738" cy="1001" r="2.7"/>
<circle cx="731.6" cy="1011.4" r="2.7"/>
<circle cx="729" cy="1031" r="2.7"/>
<circle cx="742.4" cy="1088.6" r="2.7"/>
<circle cx="735.6" cy="1124" r="2.7"/>
<circle cx="726.4" cy="1149.4" r="2.7"/>
<circle cx="742.4" cy="1174.4" r="2.7"/>
<circle cx="433.6" cy="1211.4" r="2.7"/>
<circle cx="438.4" cy="1239.6" r="2.7"/>
<circle cx="436" cy="1251" r="2.7"/>
<circle cx="425.4" cy="1253.6" r="2.7"/>
<circle cx="426" cy="1295" r="2.7"/>
<circle cx="440" cy="1316.6" r="2.7"/>
<circle cx="431" cy="1326.4" r="2.7"/>
<circle cx="430" cy="1331.4" r="2.7"/>
<circle cx="435.6" cy="1347" r="2.7"/>
<circle cx="439.8" cy="1360" r="2.7"/>
<circle cx="516.6" cy="1180" r="2.7"/>
<circle cx="509.4" cy="1227.6" r="2.7"/>
<circle cx="504.6" cy="1249.6" r="2.7"/>
<circle cx="515.6" cy="1260" r="2.7"/>
<circle cx="517.6" cy="1279.6" r="2.7"/>
<circle cx="510" cy="1316.4" r="2.7"/>
<circle cx="512.4" cy="1365.2" r="2.7"/>
<circle cx="501" cy="1396.6" r="2.7"/>
<circle cx="503" cy="1402.4" r="2.7"/>
<circle cx="586.6" cy="1265.6" r="2.7"/>
<circle cx="581" cy="1289" r="2.7"/>
<circle cx="583" cy="1293" r="2.7"/>
<circle cx="587.4" cy="1298.4" r="2.7"/>
<circle cx="578" cy="1307" r="2.7"/>
<circle cx="590.6" cy="1317" r="2.7"/>
<circle cx="588.6" cy="1323" r="2.7"/>
<circle cx="578.4" cy="1330" r="2.7"/>
<circle cx="584" cy="1349" r="2.7"/>
<circle cx="585.2" cy="1352" r="2.7"/>
<circle cx="667.4" cy="1178.4" r="2.7"/>
<circle cx="668.6" cy="1254" r="2.7"/>
<circle cx="742.6" cy="1244.6" r="2.7"/>
<circle cx="947" cy="899.6" r="2.7"/>
<circle cx="941" cy="989.4" r="2.7"/>
<circle cx="942.4" cy="1017" r="2.7"/>
<circle cx="936" cy="1024.6" r="2.7"/>
<circle cx="935" cy="1088.6" r="2.7"/>
<circle cx="939.6" cy="1133.4" r="2.7"/>
<circle cx="947.6" cy="1135.4" r="2.7"/>
<circle cx="945.6" cy="1247" r="2.7"/>
<circle cx="939.4" cy="1318.6" r="2.7"/>
<circle cx="948" cy="1320" r="2.7"/>
<circle cx="1006" cy="1425" r="2.7"/>
<circle cx="1016" cy="1425" r="2.7"/>
<circle cx="1011" cy="1425.4" r="2.7"/>
<circle cx="1084" cy="1384.4" r="2.7"/>
<circle cx="1079" cy="1413" r="2.7"/>
<circle cx="1086.6" cy="1414.4" r="2.7"/>
<circle cx="1075.6" cy="1424.6" r="2.7"/>
<circle cx="1152" cy="1413.4" r="2.7"/>
<circle cx="1155.6" cy="1412.6" r="2.7"/>
<circle cx="1149.4" cy="1426.4" r="2.7"/>
<circle cx="1156.4" cy="1426" r="2.7"/>
<circle cx="1466.6" cy="1168.6" r="2.7"/>
<circle cx="1238" cy="1401.4" r="2.7"/>
<circle cx="1230" cy="1412" r="2.7"/>
<circle cx="1242.4" cy="1413.6" r="2.7"/>
<circle cx="1238" cy="1422.6" r="2.7"/>
<circle cx="1311" cy="1409.4" r="2.7"/>
<circle cx="1305" cy="1412" r="2.7"/>
<circle cx="1313" cy="1423.4" r="2.7"/>
<circle cx="1305" cy="1424" r="2.7"/>
<circle cx="1312" cy="1427" r="2.7"/>
<circle cx="1311" cy="1244.8" r="2.7"/>
<circle cx="1386.2" cy="1404.6" r="2.7"/>
<circle cx="1380" cy="1410.6" r="2.7"/>
<circle cx="1383" cy="1425" r="2.7"/>
<circle cx="1391.6" cy="1422.6" r="2.7"/>
<circle cx="1381.2" cy="1329" r="2.7"/>
<circle cx="1458" cy="1295.6" r="2.7"/>
<circle cx="1464.4" cy="1304" r="2.7"/>
<circle cx="1463.6" cy="1328" r="2.7"/>
<circle cx="1461.4" cy="1356.6" r="2.7"/>
<circle cx="1466.6" cy="1369" r="2.7"/>
<circle cx="1458" cy="1380.6" r="2.7"/>
<circle cx="1464.4" cy="1382.6" r="2.7"/>
<circle cx="1534.4" cy="1365.6" r="2.7"/>
<circle cx="1524.6" cy="1369.6" r="2.7"/>
<circle cx="1525" cy="1404.4" r="2.7"/>
<circle cx="1524.4" cy="1421" r="2.7"/>
<circle cx="1537" cy="1417.6" r="2.7"/>
<circle cx="1532" cy="1419" r="2.7"/>
</g>
<g stroke="#000" stroke-width="2.6" stroke-linecap="round">
<line x1="93.8" y1="47.4" x2="136.8" y2="47.4"/>
<line x1="88.2" y1="73.4" x2="109.6" y2="73.4"/>
<line x1="119.2" y1="63.4" x2="140.2" y2="63.4"/>
<line x1="162.4" y1="47.4" x2="205.2" y2="47.4"/>
<line x1="187.6" y1="63.4" x2="208.8" y2="63.4"/>
<line x1="232.2" y1="47.4" x2="274.8" y2="47.4"/>
<line x1="262.2" y1="63.4" x2="283.2" y2="63.4"/>
<line x1="303.2" y1="47.4" x2="345.8" y2="47.4"/>
<line x1="327.8" y1="62.4" x2="349.2" y2="62.4"/>
<line x1="385.6" y1="47.4" x2="428.4" y2="47.4"/>
<line x1="379.8" y1="74.4" x2="401.2" y2="74.4"/>
<line x1="454.2" y1="47.4" x2="496.8" y2="47.4"/>
<line x1="448.2" y1="74.4" x2="469.6" y2="74.4"/>
<line x1="479.2" y1="64.4" x2="500.4" y2="64.4"/>
<line x1="532.2" y1="47.4" x2="574.8" y2="47.4"/>
<line x1="556.8" y1="63.4" x2="578.4" y2="63.4"/>
<line x1="636.2" y1="61" x2="657.4" y2="61"/>
<line x1="698.6" y1="47.4" x2="741.2" y2="47.4"/>
</g>
<g font-size="26" text-anchor="middle" fill="#000" stroke="#000" stroke-width="0.6" stroke-linejoin="round">
<text transform="translate(114.4,37.5) scale(1,1.23)" x="0" y="12.26">***</text>
<text transform="translate(98.6,64.5) scale(1,1.23)" x="0" y="12.26">**</text>
<text transform="translate(131,55.1) scale(1,1.23)" x="0" y="12.26">***</text>
<text transform="translate(181.6,37.5) scale(1,1.23)" x="0" y="12.26">***</text>
<text transform="translate(198,56.1) scale(1,1.23)" x="0" y="12.26">***</text>
<text transform="translate(255,37.5) scale(1,1.23)" x="0" y="12.26">***</text>
<text transform="translate(272.4,56.1) scale(1,1.23)" x="0" y="12.26">***</text>
<text transform="translate(324.4,37.5) scale(1,1.23)" x="0" y="12.26">***</text>
<text transform="translate(338.4,55.1) scale(1,1.23)" x="0" y="12.26">**</text>
<text transform="translate(408,37.5) scale(1,1.23)" x="0" y="12.26">***</text>
<text transform="translate(390.6,65.1) scale(1,1.23)" x="0" y="12.26">**</text>
<text transform="translate(477,37.5) scale(1,1.23)" x="0" y="12.26">***</text>
<text transform="translate(459,64.5) scale(1,1.23)" x="0" y="12.26">*</text>
<text transform="translate(489.6,55.5) scale(1,1.23)" x="0" y="12.26">***</text>
<text transform="translate(555,37.5) scale(1,1.23)" x="0" y="12.26">***</text>
<text transform="translate(567.4,55.5) scale(1,1.23)" x="0" y="12.26">**</text>
<text transform="translate(647.4,53.7) scale(1,1.23)" x="0" y="12.26">*</text>
<text transform="translate(719,37.5) scale(1,1.23)" x="0" y="12.26">*</text>
</g>
<g stroke="#000" stroke-width="2.9" fill="none">
<line x1="80.3" y1="22.8" x2="80.3" y2="624.2"/>
<line x1="78.85" y1="620.55" x2="753" y2="620.55"/>
</g>
<g stroke="#333" fill="none">
<line x1="113.1" y1="622" x2="113.1" y2="628" stroke-width="3"/>
<line x1="180.5" y1="622" x2="180.5" y2="628" stroke-width="3"/>
<line x1="252.5" y1="622" x2="252.5" y2="628" stroke-width="3"/>
<line x1="329.4" y1="622" x2="329.4" y2="628" stroke-width="3"/>
<line x1="409.5" y1="622" x2="409.5" y2="628" stroke-width="3"/>
<line x1="482.6" y1="622" x2="482.6" y2="628" stroke-width="3"/>
<line x1="558.3" y1="622" x2="558.3" y2="628" stroke-width="3"/>
<line x1="636.3" y1="622" x2="636.3" y2="628" stroke-width="3"/>
<line x1="716.4" y1="622" x2="716.4" y2="628" stroke-width="3"/>
<line x1="75.45" y1="206" x2="78.85" y2="206" stroke-width="2.2"/>
<line x1="75.45" y1="401" x2="78.85" y2="401" stroke-width="2.2"/>
<line x1="75.45" y1="595.5" x2="78.85" y2="595.5" stroke-width="2.2"/>
</g>
<g font-size="31" text-anchor="end" fill="#000" stroke="#000" stroke-width="0.35" letter-spacing="-0.3">
<text x="72.6" y="216.5">100</text>
<text x="72.6" y="410.4">50</text>
<text x="72.6" y="605.1">0</text>
</g>
<text transform="translate(23.8,294.6) rotate(-90)" font-size="35.4" font-weight="bold" text-anchor="middle" fill="#000" stroke="#000" stroke-width="0.25">Richness</text>
<text x="43" y="21.4" font-size="29.8" letter-spacing="-1.5" fill="#000" stroke="#000" stroke-width="0.35">(a)</text>
<g font-size="26" text-anchor="end" fill="#000" stroke="#000" stroke-width="0.35">
<text transform="translate(117.7,638.6) rotate(-60)">Ectomycorrhizal</text>
<text transform="translate(185,638.6) rotate(-60)">Foliar endophyte</text>
<text transform="translate(257.1,638.6) rotate(-60)">Plant pathogen</text>
<text transform="translate(336.3,638.6) rotate(-60)">Animal parasite</text>
<text transform="translate(416,638.6) rotate(-60)">Mycoparasite</text>
<text transform="translate(491.5,638) rotate(-60)">Wood saprotroph</text>
<text transform="translate(566.8,638.6) rotate(-60)">Litter saprotroph</text>
<text transform="translate(644.8,638.6) rotate(-60)">Soil saprotroph</text>
<text transform="translate(730.6,638.6) rotate(-60)">Unspecified saprotroph</text>
</g>
<g stroke="#000" stroke-width="2.6" stroke-linecap="round">
<line x1="890.2" y1="53.4" x2="943.2" y2="53.4"/>
<line x1="890.2" y1="78.8" x2="916.8" y2="78.8"/>
<line x1="967.2" y1="52.4" x2="1020.2" y2="52.4"/>
<line x1="1040.2" y1="53.4" x2="1093.4" y2="53.4"/>
<line x1="1118.2" y1="53.4" x2="1171.2" y2="53.4"/>
<line x1="1144.6" y1="67" x2="1171.2" y2="67"/>
<line x1="1200.8" y1="53.4" x2="1253.8" y2="53.4"/>
<line x1="1200.8" y1="78.8" x2="1226.8" y2="78.8"/>
<line x1="1272.8" y1="54.4" x2="1325.8" y2="54.4"/>
<line x1="1299.2" y1="67.6" x2="1325.8" y2="67.6"/>
<line x1="1347.2" y1="55" x2="1400.4" y2="55"/>
<line x1="1373.8" y1="68.4" x2="1400.4" y2="68.4"/>
<line x1="1422.6" y1="54" x2="1475.8" y2="54"/>
<line x1="1449.2" y1="67.4" x2="1475.8" y2="67.4"/>
<line x1="1500.2" y1="56.4" x2="1542.8" y2="56.4"/>
</g>
<g font-size="26" text-anchor="middle" fill="#000" stroke="#000" stroke-width="0.6" stroke-linejoin="round">
<text transform="translate(916,45.5) scale(1,1.23)" x="0" y="12.26">*</text>
<text transform="translate(903.6,71.1) scale(1,1.23)" x="0" y="12.26">**</text>
<text transform="translate(993.4,45.5) scale(1,1.23)" x="0" y="12.26">**</text>
<text transform="translate(1064.4,46.1) scale(1,1.23)" x="0" y="12.26">*</text>
<text transform="translate(1143,46.1) scale(1,1.23)" x="0" y="12.26">**</text>
<text transform="translate(1159.4,62.1) scale(1,1.23)" x="0" y="12.26">*</text>
<text transform="translate(1228.5,46.1) scale(1,1.23)" x="0" y="12.26">***</text>
<text transform="translate(1214.5,71.1) scale(1,1.23)" x="0" y="12.26">***</text>
<text transform="translate(1300,47.1) scale(1,1.23)" x="0" y="12.26">**</text>
<text transform="translate(1313,63.1) scale(1,1.23)" x="0" y="12.26">**</text>
<text transform="translate(1373.4,48.5) scale(1,1.23)" x="0" y="12.26">**</text>
<text transform="translate(1389,63.1) scale(1,1.23)" x="0" y="12.26">*</text>
<text transform="translate(1448.6,47.1) scale(1,1.23)" x="0" y="12.26">*</text>
<text transform="translate(1464.4,63.1) scale(1,1.23)" x="0" y="12.26">*</text>
<text transform="translate(1522,50.1) scale(1,1.23)" x="0" y="12.26">*</text>
</g>
<g stroke="#000" stroke-width="2.9" fill="none">
<line x1="880.3" y1="20.1" x2="880.3" y2="619.95"/>
<line x1="878.85" y1="618.5" x2="1555" y2="618.5"/>
</g>
<g stroke="#333" fill="none">
<line x1="923.2" y1="619.95" x2="923.2" y2="624.95" stroke-width="3"/>
<line x1="990" y1="619.95" x2="990" y2="624.95" stroke-width="3"/>
<line x1="1062.4" y1="619.95" x2="1062.4" y2="624.95" stroke-width="3"/>
<line x1="1139.4" y1="619.95" x2="1139.4" y2="624.95" stroke-width="3"/>
<line x1="1219.5" y1="619.95" x2="1219.5" y2="624.95" stroke-width="3"/>
<line x1="1292.6" y1="619.95" x2="1292.6" y2="624.95" stroke-width="3"/>
<line x1="1368" y1="619.95" x2="1368" y2="624.95" stroke-width="3"/>
<line x1="1446" y1="619.95" x2="1446" y2="624.95" stroke-width="3"/>
<line x1="1526.6" y1="619.95" x2="1526.6" y2="624.95" stroke-width="3"/>
<line x1="876.65" y1="107.6" x2="878.85" y2="107.6" stroke-width="2.2"/>
<line x1="876.65" y1="228.8" x2="878.85" y2="228.8" stroke-width="2.2"/>
<line x1="876.65" y1="350" x2="878.85" y2="350" stroke-width="2.2"/>
<line x1="876.65" y1="471.3" x2="878.85" y2="471.3" stroke-width="2.2"/>
<line x1="876.65" y1="592.5" x2="878.85" y2="592.5" stroke-width="2.2"/>
</g>
<g font-size="31" text-anchor="end" fill="#000" stroke="#000" stroke-width="0.35" letter-spacing="-0.3">
<text x="869.2" y="117.7">4</text>
<text x="869.2" y="238.5">3</text>
<text x="869.2" y="359.8">2</text>
<text x="869.2" y="481.8">1</text>
<text x="869.2" y="602.4">0</text>
</g>
<text transform="translate(832.5,306.3) rotate(-90)" font-size="35.2" font-weight="bold" text-anchor="middle" fill="#000" stroke="#000" stroke-width="0.25">Shannon</text>
<text x="837.2" y="21.3" font-size="29.8" letter-spacing="-1.9" fill="#000" stroke="#000" stroke-width="0.35">(b)</text>
<g font-size="26" text-anchor="end" fill="#000" stroke="#000" stroke-width="0.35">
<text transform="translate(925.1,635) rotate(-60)">Ectomycorrhizal</text>
<text transform="translate(995.5,635) rotate(-60)">Foliar endophyte</text>
<text transform="translate(1067,635) rotate(-60)">Plant pathogen</text>
<text transform="translate(1146.3,635) rotate(-60)">Animal parasite</text>
<text transform="translate(1226,635) rotate(-60)">Mycoparasite</text>
<text transform="translate(1301.5,635) rotate(-60)">Wood saprotroph</text>
<text transform="translate(1377.5,635) rotate(-60)">Litter saprotroph</text>
<text transform="translate(1455.5,635) rotate(-60)">Soil saprotroph</text>
<text transform="translate(1540.8,635) rotate(-60)">Unspecified saprotroph</text>
</g>
<g stroke="#000" stroke-width="2.6" stroke-linecap="round">
<line x1="92.2" y1="865.4" x2="133.8" y2="865.4"/>
<line x1="113.6" y1="880.4" x2="133.8" y2="880.4"/>
<line x1="92.2" y1="895" x2="112.8" y2="895"/>
<line x1="165.6" y1="862.4" x2="206.8" y2="862.4"/>
<line x1="186.6" y1="877.4" x2="206.8" y2="877.4"/>
<line x1="237.4" y1="864" x2="278.8" y2="864"/>
<line x1="258.6" y1="879" x2="278.8" y2="879"/>
<line x1="237.4" y1="893.6" x2="257.8" y2="893.6"/>
<line x1="314.2" y1="863.4" x2="355.8" y2="863.4"/>
<line x1="335.2" y1="878" x2="355.8" y2="878"/>
<line x1="314.2" y1="893" x2="334.8" y2="893"/>
<line x1="392.2" y1="864" x2="433.4" y2="864"/>
<line x1="392.2" y1="893.6" x2="412.8" y2="893.6"/>
<line x1="467.6" y1="865" x2="509.2" y2="865"/>
<line x1="488.6" y1="880.4" x2="509.2" y2="880.4"/>
<line x1="543.4" y1="864" x2="584.8" y2="864"/>
<line x1="564.2" y1="879" x2="584.8" y2="879"/>
<line x1="543.4" y1="893.6" x2="563.8" y2="893.6"/>
<line x1="618.8" y1="862.4" x2="660.4" y2="862.4"/>
<line x1="618.8" y1="892.6" x2="639.4" y2="892.6"/>
<line x1="693.2" y1="863" x2="734.8" y2="863"/>
<line x1="714.2" y1="877.4" x2="734.8" y2="877.4"/>
<line x1="693.2" y1="893" x2="713.8" y2="893"/>
</g>
<g font-size="21.4" text-anchor="middle" fill="#000" stroke="#000" stroke-width="0.6" stroke-linejoin="round">
<text transform="translate(113.6,857.3) scale(1,1.25)" x="0" y="10.09">***</text>
<text transform="translate(127,873.9) scale(1,1.25)" x="0" y="10.09">*</text>
<text transform="translate(100.6,887.3) scale(1,1.25)" x="0" y="10.09">**</text>
<text transform="translate(188,853.9) scale(1,1.25)" x="0" y="10.09">**</text>
<text transform="translate(198.4,871.5) scale(1,1.25)" x="0" y="10.09">***</text>
<text transform="translate(258,852.9) scale(1,1.25)" x="0" y="10.09">***</text>
<text transform="translate(268.6,872.5) scale(1,1.25)" x="0" y="10.09">***</text>
<text transform="translate(248,887.3) scale(1,1.25)" x="0" y="10.09">*</text>
<text transform="translate(333.6,854.3) scale(1,1.25)" x="0" y="10.09">***</text>
<text transform="translate(346.4,871.9) scale(1,1.25)" x="0" y="10.09">***</text>
<text transform="translate(325.4,886.3) scale(1,1.25)" x="0" y="10.09">**</text>
<text transform="translate(413,854.9) scale(1,1.25)" x="0" y="10.09">***</text>
<text transform="translate(403,886.3) scale(1,1.25)" x="0" y="10.09">***</text>
<text transform="translate(487.4,856.9) scale(1,1.25)" x="0" y="10.09">***</text>
<text transform="translate(500.4,873.9) scale(1,1.25)" x="0" y="10.09">***</text>
<text transform="translate(564,855.9) scale(1,1.25)" x="0" y="10.09">***</text>
<text transform="translate(577,872.9) scale(1,1.25)" x="0" y="10.09">***</text>
<text transform="translate(554.4,886.9) scale(1,1.25)" x="0" y="10.09">**</text>
<text transform="translate(641,854.9) scale(1,1.25)" x="0" y="10.09">***</text>
<text transform="translate(630,884.9) scale(1,1.25)" x="0" y="10.09">**</text>
<text transform="translate(713,854.3) scale(1,1.25)" x="0" y="10.09">***</text>
<text transform="translate(725,870.9) scale(1,1.25)" x="0" y="10.09">**</text>
<text transform="translate(703.6,885.5) scale(1,1.25)" x="0" y="10.09">***</text>
</g>
<g stroke="#000" stroke-width="2.9" fill="none">
<line x1="79.5" y1="855.5" x2="79.5" y2="1455.75"/>
<line x1="78.05" y1="1454.3" x2="753" y2="1454.3"/>
</g>
<g stroke="#333" fill="none">
<line x1="117.3" y1="1455.75" x2="117.3" y2="1461.75" stroke-width="3"/>
<line x1="184.6" y1="1455.75" x2="184.6" y2="1461.75" stroke-width="3"/>
<line x1="256.6" y1="1455.75" x2="256.6" y2="1461.75" stroke-width="3"/>
<line x1="333.6" y1="1455.75" x2="333.6" y2="1461.75" stroke-width="3"/>
<line x1="413.6" y1="1455.75" x2="413.6" y2="1461.75" stroke-width="3"/>
<line x1="487" y1="1455.75" x2="487" y2="1461.75" stroke-width="3"/>
<line x1="562.4" y1="1455.75" x2="562.4" y2="1461.75" stroke-width="3"/>
<line x1="640" y1="1455.75" x2="640" y2="1461.75" stroke-width="3"/>
<line x1="716.4" y1="1455.75" x2="716.4" y2="1461.75" stroke-width="3"/>
<line x1="75.05" y1="882.4" x2="78.05" y2="882.4" stroke-width="2.2"/>
<line x1="75.05" y1="1031.5" x2="78.05" y2="1031.5" stroke-width="2.2"/>
<line x1="75.05" y1="1180.2" x2="78.05" y2="1180.2" stroke-width="2.2"/>
<line x1="75.05" y1="1329" x2="78.05" y2="1329" stroke-width="2.2"/>
</g>
<g font-size="31" text-anchor="end" fill="#000" stroke="#000" stroke-width="0.35" letter-spacing="-0.6">
<text x="74.6" y="892">0.6</text>
<text x="74.6" y="1042.2">0.3</text>
<text x="74.6" y="1190">0.0</text>
<text x="74.6" y="1338.5">−0.3</text>
</g>
<text transform="translate(24.6,1118.6) rotate(-90)" font-size="35.25" font-weight="bold" text-anchor="middle" fill="#000" stroke="#000" stroke-width="0.25">Composition</text>
<text x="38.3" y="846.9" font-size="30.5" letter-spacing="0.3" fill="#000" stroke="#000" stroke-width="0.35">(c)</text>
<g font-size="26" text-anchor="end" fill="#000" stroke="#000" stroke-width="0.35">
<text transform="translate(121.4,1471.8) rotate(-60)">Ectomycorrhizal</text>
<text transform="translate(189.6,1471.8) rotate(-60)">Foliar endophyte</text>
<text transform="translate(261.4,1471.8) rotate(-60)">Plant pathogen</text>
<text transform="translate(341,1471.8) rotate(-60)">Animal parasite</text>
<text transform="translate(420.6,1471.8) rotate(-60)">Mycoparasite</text>
<text transform="translate(496.1,1471.8) rotate(-60)">Wood saprotroph</text>
<text transform="translate(570.9,1471.8) rotate(-60)">Litter saprotroph</text>
<text transform="translate(649.7,1471.8) rotate(-60)">Soil saprotroph</text>
<text transform="translate(726.2,1469.8) rotate(-60)">Unspecified saprotroph</text>
</g>
<g stroke="#000" stroke-width="2.6" stroke-linecap="round">
<line x1="904.6" y1="856.4" x2="935.8" y2="856.4"/>
<line x1="926.2" y1="870" x2="942.8" y2="870"/>
<line x1="910.2" y1="881.6" x2="926.4" y2="881.6"/>
<line x1="977.6" y1="855.6" x2="1009.4" y2="855.6"/>
<line x1="999.8" y1="869.6" x2="1015.8" y2="869.6"/>
<line x1="1046.2" y1="854.4" x2="1077.8" y2="854.4"/>
<line x1="1068.2" y1="868.6" x2="1083.8" y2="868.6"/>
<line x1="1118.2" y1="857.6" x2="1149.8" y2="857.6"/>
<line x1="1140.2" y1="871" x2="1156.2" y2="871"/>
<line x1="1273.6" y1="877" x2="1289.8" y2="877"/>
<line x1="1498.2" y1="881.6" x2="1514.4" y2="881.6"/>
</g>
<g font-size="26.1" text-anchor="middle" fill="#000" stroke="#000" stroke-width="0.6" stroke-linejoin="round">
<text transform="translate(928,851.3) scale(1,1.13)" x="0" y="12.31">***</text>
<text transform="translate(936,864.7) scale(1,1.13)" x="0" y="12.31">**</text>
<text transform="translate(918,876.3) scale(1,1.13)" x="0" y="12.31">*</text>
<text transform="translate(1001,848.9) scale(1,1.13)" x="0" y="12.31">**</text>
<text transform="translate(1008,863.3) scale(1,1.13)" x="0" y="12.31">**</text>
<text transform="translate(1068.6,848.3) scale(1,1.13)" x="0" y="12.31">***</text>
<text transform="translate(1077.4,862.9) scale(1,1.13)" x="0" y="12.31">**</text>
<text transform="translate(1142,851.7) scale(1,1.13)" x="0" y="12.31">***</text>
<text transform="translate(1148.4,866.9) scale(1,1.13)" x="0" y="12.31">**</text>
<text transform="translate(1282,870.3) scale(1,1.13)" x="0" y="12.31">**</text>
<text transform="translate(1505,875.3) scale(1,1.13)" x="0" y="12.31">*</text>
</g>
<g stroke="#000" stroke-width="2.9" fill="none">
<line x1="881.65" y1="855.5" x2="881.65" y2="1455.55"/>
<line x1="880.2" y1="1454.1" x2="1554.5" y2="1454.1"/>
</g>
<g stroke="#333" fill="none">
<line x1="926.5" y1="1455.55" x2="926.5" y2="1460.15" stroke-width="3"/>
<line x1="994" y1="1455.55" x2="994" y2="1460.15" stroke-width="3"/>
<line x1="1065.6" y1="1455.55" x2="1065.6" y2="1460.15" stroke-width="3"/>
<line x1="1142.4" y1="1455.55" x2="1142.4" y2="1460.15" stroke-width="3"/>
<line x1="1222.4" y1="1455.55" x2="1222.4" y2="1460.15" stroke-width="3"/>
<line x1="1295.4" y1="1455.55" x2="1295.4" y2="1460.15" stroke-width="3"/>
<line x1="1371.6" y1="1455.55" x2="1371.6" y2="1460.15" stroke-width="3"/>
<line x1="1449.3" y1="1455.55" x2="1449.3" y2="1460.15" stroke-width="3"/>
<line x1="1518" y1="1455.55" x2="1518" y2="1460.15" stroke-width="3"/>
<line x1="877.6" y1="941.3" x2="880.2" y2="941.3" stroke-width="2.2"/>
<line x1="877.6" y1="1103.5" x2="880.2" y2="1103.5" stroke-width="2.2"/>
<line x1="877.6" y1="1265.7" x2="880.2" y2="1265.7" stroke-width="2.2"/>
<line x1="877.6" y1="1428.2" x2="880.2" y2="1428.2" stroke-width="2.2"/>
</g>
<g font-size="26.8" text-anchor="end" fill="#000" stroke="#000" stroke-width="0.35" letter-spacing="-0.78">
<text x="874" y="947.9">15000</text>
<text x="874" y="1112.6">10000</text>
<text x="874" y="1275.8">5000</text>
<text x="874" y="1437.6">0</text>
</g>
<text transform="translate(804.4,1128.9) rotate(-90)" font-size="35.5" font-weight="bold" text-anchor="middle" fill="#000" stroke="#000" stroke-width="0.25">Abundance</text>
<text x="836.9" y="852.6" font-size="26.2" letter-spacing="0.05" fill="#000" stroke="#000" stroke-width="0.35">(d)</text>
<g font-size="26" text-anchor="end" fill="#000" stroke="#000" stroke-width="0.35">
<text transform="translate(930.7,1469.8) rotate(-60)">Ectomycorrhizal</text>
<text transform="translate(998.9,1469.8) rotate(-60)">Foliar endophyte</text>
<text transform="translate(1070.8,1469.8) rotate(-60)">Plant pathogen</text>
<text transform="translate(1149.6,1469.8) rotate(-60)">Animal parasite</text>
<text transform="translate(1229.5,1469.8) rotate(-60)">Mycoparasite</text>
<text transform="translate(1304.6,1469.8) rotate(-60)">Wood saprotroph</text>
<text transform="translate(1379.4,1467.8) rotate(-60)">Litter saprotroph</text>
<text transform="translate(1454.1,1469.3) rotate(-60)">Soil saprotroph</text>
<text transform="translate(1523.4,1469.3) rotate(-60)">Unspecificed saprotroph</text>
</g>
<text x="1603.4" y="167.8" font-size="30.9" font-weight="bold" fill="#000" stroke="#000" stroke-width="0.25">Forest type</text>
<g stroke="#7DB12B" fill="none">
<line x1="1592.05" y1="182.1" x2="1592.05" y2="203.8" stroke-width="3.6"/>
<rect x="1582.9" y="186.1" width="18.3" height="12.4" stroke-width="3.6" fill="#ffffff"/>
<line x1="1582.9" y1="192.3" x2="1601.2" y2="192.3" stroke-width="3.3"/>
</g>
<text x="1634.6" y="204.2" font-size="26.1" fill="#000" stroke="#000" stroke-width="0.35">Limestone</text>
<g stroke="#5B7FBC" fill="none">
<line x1="1592.6" y1="214.5" x2="1592.6" y2="234.8" stroke-width="3.6"/>
<rect x="1583.1" y="218.4" width="19" height="12.5" stroke-width="3.6" fill="#ffffff"/>
<line x1="1583.1" y1="224.65" x2="1602.1" y2="224.65" stroke-width="3.3"/>
</g>
<text x="1634.6" y="232.4" font-size="26.1" fill="#000" stroke="#000" stroke-width="0.35">Lowland</text>
<g stroke="#E3962A" fill="none">
<line x1="1592.65" y1="246" x2="1592.65" y2="265.8" stroke-width="3.6"/>
<rect x="1583.2" y="249.7" width="18.9" height="11.9" stroke-width="3.6" fill="#ffffff"/>
<line x1="1583.2" y1="255.65" x2="1602.1" y2="255.65" stroke-width="3.3"/>
</g>
<text x="1634.6" y="263.9" font-size="26.1" fill="#000" stroke="#000" stroke-width="0.35">Montane</text>
</svg>
</body>
</html>
